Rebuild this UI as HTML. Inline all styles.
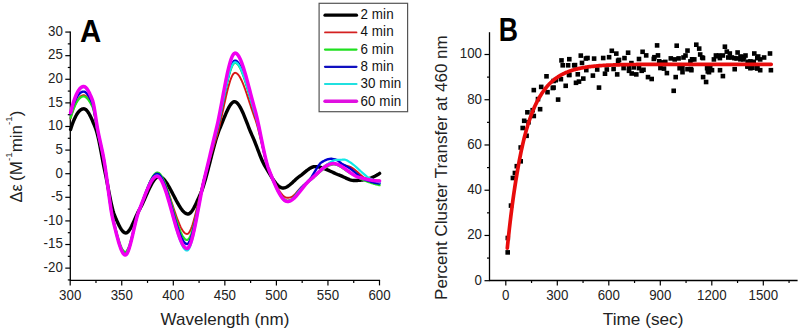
<!DOCTYPE html>
<html><head><meta charset="utf-8"><style>
html,body{margin:0;padding:0;background:#fff;overflow:hidden;}
svg{display:block;}
text{font-family:"Liberation Sans",sans-serif;fill:#222;}
.t{font-size:13.3px;}
.ti{font-size:17px;}
.lg{font-size:13.4px;fill:#111;letter-spacing:0.12px;}
.lab{font-size:30px;font-weight:bold;fill:#000;}
</style></head><body>
<svg width="800" height="331" viewBox="0 0 800 331">
<line x1="70.3" y1="31.569999999999993" x2="70.3" y2="280.4" stroke="#000" stroke-width="1.3"/>
<line x1="69.7" y1="280.4" x2="380.09999999999997" y2="280.4" stroke="#000" stroke-width="1.3"/>
<line x1="65.3" y1="268.12" x2="70.3" y2="268.12" stroke="#000" stroke-width="1.2"/>
<text transform="translate(62.80,271.92) scale(1,1.08)" text-anchor="end" class="t">-20</text>
<line x1="65.3" y1="244.515" x2="70.3" y2="244.515" stroke="#000" stroke-width="1.2"/>
<text transform="translate(62.80,248.31) scale(1,1.08)" text-anchor="end" class="t">-15</text>
<line x1="65.3" y1="220.91" x2="70.3" y2="220.91" stroke="#000" stroke-width="1.2"/>
<text transform="translate(62.80,224.71) scale(1,1.08)" text-anchor="end" class="t">-10</text>
<line x1="65.3" y1="197.30499999999998" x2="70.3" y2="197.30499999999998" stroke="#000" stroke-width="1.2"/>
<text transform="translate(62.80,201.10) scale(1,1.08)" text-anchor="end" class="t">-5</text>
<line x1="65.3" y1="173.7" x2="70.3" y2="173.7" stroke="#000" stroke-width="1.2"/>
<text transform="translate(62.80,177.50) scale(1,1.08)" text-anchor="end" class="t">0</text>
<line x1="65.3" y1="150.095" x2="70.3" y2="150.095" stroke="#000" stroke-width="1.2"/>
<text transform="translate(62.80,153.90) scale(1,1.08)" text-anchor="end" class="t">5</text>
<line x1="65.3" y1="126.48999999999998" x2="70.3" y2="126.48999999999998" stroke="#000" stroke-width="1.2"/>
<text transform="translate(62.80,130.29) scale(1,1.08)" text-anchor="end" class="t">10</text>
<line x1="65.3" y1="102.88499999999999" x2="70.3" y2="102.88499999999999" stroke="#000" stroke-width="1.2"/>
<text transform="translate(62.80,106.68) scale(1,1.08)" text-anchor="end" class="t">15</text>
<line x1="65.3" y1="79.27999999999999" x2="70.3" y2="79.27999999999999" stroke="#000" stroke-width="1.2"/>
<text transform="translate(62.80,83.08) scale(1,1.08)" text-anchor="end" class="t">20</text>
<line x1="65.3" y1="55.67499999999998" x2="70.3" y2="55.67499999999998" stroke="#000" stroke-width="1.2"/>
<text transform="translate(62.80,59.47) scale(1,1.08)" text-anchor="end" class="t">25</text>
<line x1="65.3" y1="32.06999999999999" x2="70.3" y2="32.06999999999999" stroke="#000" stroke-width="1.2"/>
<text transform="translate(62.80,35.87) scale(1,1.08)" text-anchor="end" class="t">30</text>
<line x1="67.8" y1="279.9225" x2="70.3" y2="279.9225" stroke="#000" stroke-width="1.2"/>
<line x1="67.8" y1="256.3175" x2="70.3" y2="256.3175" stroke="#000" stroke-width="1.2"/>
<line x1="67.8" y1="232.71249999999998" x2="70.3" y2="232.71249999999998" stroke="#000" stroke-width="1.2"/>
<line x1="67.8" y1="209.1075" x2="70.3" y2="209.1075" stroke="#000" stroke-width="1.2"/>
<line x1="67.8" y1="185.5025" x2="70.3" y2="185.5025" stroke="#000" stroke-width="1.2"/>
<line x1="67.8" y1="161.89749999999998" x2="70.3" y2="161.89749999999998" stroke="#000" stroke-width="1.2"/>
<line x1="67.8" y1="138.2925" x2="70.3" y2="138.2925" stroke="#000" stroke-width="1.2"/>
<line x1="67.8" y1="114.68749999999999" x2="70.3" y2="114.68749999999999" stroke="#000" stroke-width="1.2"/>
<line x1="67.8" y1="91.08249999999998" x2="70.3" y2="91.08249999999998" stroke="#000" stroke-width="1.2"/>
<line x1="67.8" y1="67.47749999999999" x2="70.3" y2="67.47749999999999" stroke="#000" stroke-width="1.2"/>
<line x1="67.8" y1="43.872499999999974" x2="70.3" y2="43.872499999999974" stroke="#000" stroke-width="1.2"/>
<line x1="70.2" y1="280.4" x2="70.2" y2="285.4" stroke="#000" stroke-width="1.2"/>
<text transform="translate(70.20,299.50) scale(1,1.08)" text-anchor="middle" class="t">300</text>
<line x1="121.75" y1="280.4" x2="121.75" y2="285.4" stroke="#000" stroke-width="1.2"/>
<text transform="translate(121.75,299.50) scale(1,1.08)" text-anchor="middle" class="t">350</text>
<line x1="173.3" y1="280.4" x2="173.3" y2="285.4" stroke="#000" stroke-width="1.2"/>
<text transform="translate(173.30,299.50) scale(1,1.08)" text-anchor="middle" class="t">400</text>
<line x1="224.84999999999997" y1="280.4" x2="224.84999999999997" y2="285.4" stroke="#000" stroke-width="1.2"/>
<text transform="translate(224.85,299.50) scale(1,1.08)" text-anchor="middle" class="t">450</text>
<line x1="276.4" y1="280.4" x2="276.4" y2="285.4" stroke="#000" stroke-width="1.2"/>
<text transform="translate(276.40,299.50) scale(1,1.08)" text-anchor="middle" class="t">500</text>
<line x1="327.95" y1="280.4" x2="327.95" y2="285.4" stroke="#000" stroke-width="1.2"/>
<text transform="translate(327.95,299.50) scale(1,1.08)" text-anchor="middle" class="t">550</text>
<line x1="379.49999999999994" y1="280.4" x2="379.49999999999994" y2="285.4" stroke="#000" stroke-width="1.2"/>
<text transform="translate(379.50,299.50) scale(1,1.08)" text-anchor="middle" class="t">600</text>
<line x1="95.975" y1="280.4" x2="95.975" y2="282.9" stroke="#000" stroke-width="1.2"/>
<line x1="147.52499999999998" y1="280.4" x2="147.52499999999998" y2="282.9" stroke="#000" stroke-width="1.2"/>
<line x1="199.075" y1="280.4" x2="199.075" y2="282.9" stroke="#000" stroke-width="1.2"/>
<line x1="250.625" y1="280.4" x2="250.625" y2="282.9" stroke="#000" stroke-width="1.2"/>
<line x1="302.175" y1="280.4" x2="302.175" y2="282.9" stroke="#000" stroke-width="1.2"/>
<line x1="353.72499999999997" y1="280.4" x2="353.72499999999997" y2="282.9" stroke="#000" stroke-width="1.2"/>
<text x="225" y="325.0" text-anchor="middle" class="ti">Wavelength (nm)</text>
<text transform="translate(21.6,0) rotate(-90)" x="-202.5" y="0" class="ti" style="font-size:16.4px">&#916;&#949;<tspan dx="-1.4" style="font-size:17px"> (M<tspan font-size="9.8" dy="-9.9">-1</tspan><tspan dy="9.9">min</tspan><tspan font-size="9.8" dy="-9.9">-1</tspan><tspan dy="9.9">)</tspan></tspan></text>
<text transform="translate(80,41.7) scale(0.92,1)" x="0" y="0" class="lab" style="font-size:32px">A</text>
<rect x="319.1" y="3.3" width="88.5" height="108.4" fill="#fff" stroke="#555" stroke-width="1.2"/>
<line x1="325" y1="15.2" x2="356.5" y2="15.2" stroke="#000000" stroke-width="3.2" stroke-linecap="round"/>
<text transform="translate(360.4,19.10) scale(1,1.09)" class="lg">2 min</text>
<line x1="325" y1="32.4" x2="356.5" y2="32.4" stroke="#d42020" stroke-width="1.8" stroke-linecap="round"/>
<text transform="translate(360.4,36.38) scale(1,1.09)" class="lg">4 min</text>
<line x1="325" y1="49.599999999999994" x2="356.5" y2="49.599999999999994" stroke="#20e020" stroke-width="2.2" stroke-linecap="round"/>
<text transform="translate(360.4,53.66) scale(1,1.09)" class="lg">6 min</text>
<line x1="325" y1="66.8" x2="356.5" y2="66.8" stroke="#1010c0" stroke-width="2.2" stroke-linecap="round"/>
<text transform="translate(360.4,70.94) scale(1,1.09)" class="lg">8 min</text>
<line x1="325" y1="84.0" x2="356.5" y2="84.0" stroke="#20e0e0" stroke-width="2.2" stroke-linecap="round"/>
<text transform="translate(360.4,88.22) scale(1,1.09)" class="lg">30 min</text>
<line x1="325" y1="101.2" x2="356.5" y2="101.2" stroke="#e010e0" stroke-width="3.4" stroke-linecap="round"/>
<text transform="translate(360.4,105.50) scale(1,1.09)" class="lg">60 min</text>
<line x1="489.5" y1="32.2" x2="489.5" y2="280.5" stroke="#000" stroke-width="1.3"/>
<line x1="488.9" y1="280.5" x2="797.6" y2="280.5" stroke="#000" stroke-width="1.3"/>
<line x1="484.5" y1="280.7" x2="489.5" y2="280.7" stroke="#000" stroke-width="1.2"/>
<text transform="translate(482.00,284.50) scale(1,1.08)" text-anchor="end" class="t">0</text>
<line x1="484.5" y1="235.45999999999998" x2="489.5" y2="235.45999999999998" stroke="#000" stroke-width="1.2"/>
<text transform="translate(482.00,239.26) scale(1,1.08)" text-anchor="end" class="t">20</text>
<line x1="484.5" y1="190.21999999999997" x2="489.5" y2="190.21999999999997" stroke="#000" stroke-width="1.2"/>
<text transform="translate(482.00,194.02) scale(1,1.08)" text-anchor="end" class="t">40</text>
<line x1="484.5" y1="144.98" x2="489.5" y2="144.98" stroke="#000" stroke-width="1.2"/>
<text transform="translate(482.00,148.78) scale(1,1.08)" text-anchor="end" class="t">60</text>
<line x1="484.5" y1="99.73999999999998" x2="489.5" y2="99.73999999999998" stroke="#000" stroke-width="1.2"/>
<text transform="translate(482.00,103.54) scale(1,1.08)" text-anchor="end" class="t">80</text>
<line x1="484.5" y1="54.5" x2="489.5" y2="54.5" stroke="#000" stroke-width="1.2"/>
<text transform="translate(482.00,58.30) scale(1,1.08)" text-anchor="end" class="t">100</text>
<line x1="487.0" y1="258.08" x2="489.5" y2="258.08" stroke="#000" stroke-width="1.2"/>
<line x1="487.0" y1="212.83999999999997" x2="489.5" y2="212.83999999999997" stroke="#000" stroke-width="1.2"/>
<line x1="487.0" y1="167.6" x2="489.5" y2="167.6" stroke="#000" stroke-width="1.2"/>
<line x1="487.0" y1="122.35999999999999" x2="489.5" y2="122.35999999999999" stroke="#000" stroke-width="1.2"/>
<line x1="487.0" y1="77.11999999999998" x2="489.5" y2="77.11999999999998" stroke="#000" stroke-width="1.2"/>
<line x1="505.8" y1="280.5" x2="505.8" y2="285.5" stroke="#000" stroke-width="1.2"/>
<text transform="translate(505.80,299.60) scale(1,1.08)" text-anchor="middle" class="t">0</text>
<line x1="557.301" y1="280.5" x2="557.301" y2="285.5" stroke="#000" stroke-width="1.2"/>
<text transform="translate(557.30,299.60) scale(1,1.08)" text-anchor="middle" class="t">300</text>
<line x1="608.802" y1="280.5" x2="608.802" y2="285.5" stroke="#000" stroke-width="1.2"/>
<text transform="translate(608.80,299.60) scale(1,1.08)" text-anchor="middle" class="t">600</text>
<line x1="660.303" y1="280.5" x2="660.303" y2="285.5" stroke="#000" stroke-width="1.2"/>
<text transform="translate(660.30,299.60) scale(1,1.08)" text-anchor="middle" class="t">900</text>
<line x1="711.804" y1="280.5" x2="711.804" y2="285.5" stroke="#000" stroke-width="1.2"/>
<text transform="translate(711.80,299.60) scale(1,1.08)" text-anchor="middle" class="t">1200</text>
<line x1="763.3050000000001" y1="280.5" x2="763.3050000000001" y2="285.5" stroke="#000" stroke-width="1.2"/>
<text transform="translate(763.31,299.60) scale(1,1.08)" text-anchor="middle" class="t">1500</text>
<line x1="531.5505" y1="280.5" x2="531.5505" y2="283.0" stroke="#000" stroke-width="1.2"/>
<line x1="583.0515" y1="280.5" x2="583.0515" y2="283.0" stroke="#000" stroke-width="1.2"/>
<line x1="634.5525" y1="280.5" x2="634.5525" y2="283.0" stroke="#000" stroke-width="1.2"/>
<line x1="686.0535" y1="280.5" x2="686.0535" y2="283.0" stroke="#000" stroke-width="1.2"/>
<line x1="737.5545" y1="280.5" x2="737.5545" y2="283.0" stroke="#000" stroke-width="1.2"/>
<line x1="789.0554999999999" y1="280.5" x2="789.0554999999999" y2="283.0" stroke="#000" stroke-width="1.2"/>
<text x="643.1" y="325.2" text-anchor="middle" class="ti" style="font-size:17.2px">Time (sec)</text>
<text transform="translate(447.2,167.6) rotate(-90)" text-anchor="middle" class="ti">Percent Cluster Transfer at 460 nm</text>
<text transform="translate(498.7,40.6) scale(0.82,1)" x="0" y="0" class="lab" style="font-size:32.5px">B</text>
<path d="M70.6,129.50 L71.2,127.59 L71.8,125.77 L72.4,124.06 L73.0,122.44 L73.6,120.92 L74.2,119.49 L74.8,118.16 L75.4,116.92 L76.0,115.77 L76.6,114.72 L77.2,113.75 L77.8,112.88 L78.4,112.09 L79.0,111.39 L79.6,110.77 L80.2,110.24 L80.8,109.80 L81.4,109.44 L82.0,109.16 L82.6,108.96 L83.2,108.84 L83.8,108.80 L84.4,108.87 L85.0,109.09 L85.6,109.45 L86.2,109.93 L86.8,110.53 L87.4,111.25 L88.0,112.07 L88.6,112.99 L89.2,114.00 L89.8,115.10 L90.4,116.27 L91.0,117.51 L91.6,118.81 L92.2,120.17 L92.8,121.57 L93.4,123.01 L94.0,124.48 L94.6,125.97 L95.2,127.48 L95.8,129.00 L96.4,130.69 L97.0,132.70 L97.6,134.99 L98.2,137.52 L98.8,140.26 L99.4,143.17 L100.0,146.21 L100.6,149.34 L101.2,152.54 L101.8,155.76 L102.4,158.97 L103.0,162.12 L103.6,165.19 L104.2,168.13 L104.8,170.92 L105.4,173.79 L106.0,176.76 L106.6,179.81 L107.2,182.92 L107.8,186.06 L108.4,189.20 L109.0,192.32 L109.6,195.39 L110.2,198.38 L110.8,201.27 L111.4,204.04 L112.0,206.65 L112.6,209.07 L113.2,211.30 L113.8,213.28 L114.4,215.01 L115.0,216.46 L115.6,217.85 L116.2,219.23 L116.8,220.58 L117.4,221.91 L118.0,223.21 L118.6,224.46 L119.2,225.65 L119.8,226.79 L120.4,227.86 L121.0,228.85 L121.6,229.75 L122.2,230.57 L122.8,231.27 L123.4,231.87 L124.0,232.35 L124.6,232.71 L125.2,232.93 L125.8,233.00 L126.4,232.91 L127.0,232.65 L127.6,232.22 L128.2,231.65 L128.8,230.95 L129.4,230.12 L130.0,229.18 L130.6,228.14 L131.2,227.02 L131.8,225.83 L132.4,224.57 L133.0,223.27 L133.6,221.93 L134.2,220.57 L134.8,219.19 L135.4,217.82 L136.0,216.47 L136.6,215.14 L137.2,213.85 L137.8,212.61 L138.4,211.44 L139.0,210.35 L139.6,209.30 L140.2,208.22 L140.8,207.07 L141.4,205.89 L142.0,204.66 L142.6,203.40 L143.2,202.11 L143.8,200.79 L144.4,199.46 L145.0,198.12 L145.6,196.77 L146.2,195.41 L146.8,194.06 L147.4,192.72 L148.0,191.40 L148.6,190.10 L149.2,188.82 L149.8,187.57 L150.4,186.37 L151.0,185.20 L151.6,184.09 L152.2,183.03 L152.8,182.02 L153.4,181.09 L154.0,180.22 L154.6,179.43 L155.2,178.72 L155.8,178.10 L156.4,177.58 L157.0,177.15 L157.6,176.82 L158.2,176.61 L158.8,176.51 L159.4,176.52 L160.0,176.63 L160.6,176.83 L161.2,177.11 L161.8,177.48 L162.4,177.93 L163.0,178.44 L163.6,179.03 L164.2,179.68 L164.8,180.40 L165.4,181.17 L166.0,182.00 L166.6,182.88 L167.2,183.80 L167.8,184.76 L168.4,185.77 L169.0,186.80 L169.6,187.87 L170.2,188.96 L170.8,190.07 L171.4,191.21 L172.0,192.35 L172.6,193.51 L173.2,194.67 L173.8,195.83 L174.4,196.99 L175.0,198.15 L175.6,199.29 L176.2,200.43 L176.8,201.54 L177.4,202.63 L178.0,203.70 L178.6,204.73 L179.2,205.74 L179.8,206.70 L180.4,207.62 L181.0,208.50 L181.6,209.33 L182.2,210.10 L182.8,210.82 L183.4,211.47 L184.0,212.06 L184.6,212.57 L185.2,213.02 L185.8,213.39 L186.4,213.67 L187.0,213.87 L187.6,213.98 L188.2,213.99 L188.8,213.86 L189.4,213.59 L190.0,213.17 L190.6,212.63 L191.2,211.98 L191.8,211.21 L192.4,210.35 L193.0,209.39 L193.6,208.36 L194.2,207.26 L194.8,206.10 L195.4,204.89 L196.0,203.64 L196.6,202.36 L197.2,201.06 L197.8,199.75 L198.4,198.44 L199.0,197.13 L199.6,195.84 L200.2,194.57 L200.8,193.22 L201.4,191.74 L202.0,190.15 L202.6,188.45 L203.2,186.66 L203.8,184.78 L204.4,182.81 L205.0,180.78 L205.6,178.67 L206.2,176.51 L206.8,174.30 L207.4,172.04 L208.0,169.75 L208.6,167.43 L209.2,165.09 L209.8,162.73 L210.4,160.37 L211.0,158.02 L211.6,155.67 L212.2,153.33 L212.8,151.03 L213.4,148.75 L214.0,146.52 L214.6,144.33 L215.2,142.20 L215.8,140.13 L216.4,138.13 L217.0,136.21 L217.6,134.38 L218.2,132.63 L218.8,130.99 L219.4,129.46 L220.0,128.03 L220.6,126.60 L221.2,125.15 L221.8,123.67 L222.4,122.18 L223.0,120.68 L223.6,119.19 L224.2,117.70 L224.8,116.24 L225.4,114.80 L226.0,113.39 L226.6,112.03 L227.2,110.71 L227.8,109.46 L228.4,108.27 L229.0,107.15 L229.6,106.11 L230.2,105.17 L230.8,104.32 L231.4,103.57 L232.0,102.94 L232.6,102.43 L233.2,102.05 L233.8,101.80 L234.4,101.70 L235.0,101.75 L235.6,101.94 L236.2,102.25 L236.8,102.70 L237.4,103.26 L238.0,103.94 L238.6,104.71 L239.2,105.59 L239.8,106.56 L240.4,107.62 L241.0,108.75 L241.6,109.95 L242.2,111.22 L242.8,112.55 L243.4,113.93 L244.0,115.35 L244.6,116.81 L245.2,118.30 L245.8,119.82 L246.4,121.35 L247.0,122.90 L247.6,124.44 L248.2,125.99 L248.8,127.53 L249.4,129.05 L250.0,130.54 L250.6,132.01 L251.2,133.44 L251.8,134.83 L252.4,136.17 L253.0,137.48 L253.6,138.85 L254.2,140.28 L254.8,141.76 L255.4,143.28 L256.0,144.83 L256.6,146.40 L257.2,148.00 L257.8,149.59 L258.4,151.19 L259.0,152.77 L259.6,154.34 L260.2,155.87 L260.8,157.37 L261.4,158.82 L262.0,160.22 L262.6,161.55 L263.2,162.82 L263.8,164.00 L264.4,165.09 L265.0,166.10 L265.6,167.11 L266.2,168.12 L266.8,169.14 L267.4,170.17 L268.0,171.20 L268.6,172.22 L269.2,173.24 L269.8,174.25 L270.4,175.24 L271.0,176.23 L271.6,177.19 L272.2,178.13 L272.8,179.05 L273.4,179.94 L274.0,180.80 L274.6,181.63 L275.2,182.42 L275.8,183.17 L276.4,183.88 L277.0,184.55 L277.6,185.16 L278.2,185.72 L278.8,186.23 L279.4,186.68 L280.0,187.07 L280.6,187.40 L281.2,187.66 L281.8,187.85 L282.4,187.96 L283.0,188.00 L283.6,187.97 L284.2,187.88 L284.8,187.74 L285.4,187.54 L286.0,187.30 L286.6,187.01 L287.2,186.68 L287.8,186.32 L288.4,185.91 L289.0,185.48 L289.6,185.02 L290.2,184.53 L290.8,184.02 L291.4,183.50 L292.0,182.96 L292.6,182.41 L293.2,181.85 L293.8,181.28 L294.4,180.72 L295.0,180.16 L295.6,179.60 L296.2,179.05 L296.8,178.51 L297.4,177.99 L298.0,177.49 L298.6,177.01 L299.2,176.56 L299.8,176.13 L300.4,175.73 L301.0,175.30 L301.6,174.86 L302.2,174.39 L302.8,173.91 L303.4,173.42 L304.0,172.92 L304.6,172.42 L305.2,171.92 L305.8,171.42 L306.4,170.93 L307.0,170.45 L307.6,169.98 L308.2,169.53 L308.8,169.09 L309.4,168.68 L310.0,168.30 L310.6,167.95 L311.2,167.63 L311.8,167.34 L312.4,167.10 L313.0,166.90 L313.6,166.75 L314.2,166.65 L314.8,166.60 L315.4,166.60 L316.0,166.63 L316.6,166.67 L317.2,166.73 L317.8,166.81 L318.4,166.90 L319.0,167.01 L319.6,167.14 L320.2,167.28 L320.8,167.43 L321.4,167.60 L322.0,167.78 L322.6,167.97 L323.2,168.17 L323.8,168.38 L324.4,168.61 L325.0,168.84 L325.6,169.08 L326.2,169.32 L326.8,169.58 L327.4,169.84 L328.0,170.10 L328.6,170.37 L329.2,170.64 L329.8,170.92 L330.4,171.20 L331.0,171.48 L331.6,171.76 L332.2,172.04 L332.8,172.32 L333.4,172.60 L334.0,172.88 L334.6,173.16 L335.2,173.43 L335.8,173.70 L336.4,173.96 L337.0,174.22 L337.6,174.47 L338.2,174.71 L338.8,174.95 L339.4,175.18 L340.0,175.40 L340.6,175.62 L341.2,175.87 L341.8,176.12 L342.4,176.39 L343.0,176.67 L343.6,176.95 L344.2,177.24 L344.8,177.53 L345.4,177.82 L346.0,178.11 L346.6,178.39 L347.2,178.67 L347.8,178.93 L348.4,179.19 L349.0,179.42 L349.6,179.65 L350.2,179.85 L350.8,180.02 L351.4,180.18 L352.0,180.31 L352.6,180.40 L353.2,180.47 L353.8,180.50 L354.4,180.50 L355.0,180.49 L355.6,180.49 L356.2,180.47 L356.8,180.45 L357.4,180.43 L358.0,180.40 L358.6,180.36 L359.2,180.32 L359.8,180.28 L360.4,180.22 L361.0,180.16 L361.6,180.09 L362.2,180.02 L362.8,179.93 L363.4,179.84 L364.0,179.74 L364.6,179.64 L365.2,179.52 L365.8,179.39 L366.4,179.26 L367.0,179.12 L367.6,178.96 L368.2,178.80 L368.8,178.62 L369.4,178.44 L370.0,178.24 L370.6,178.03 L371.2,177.82 L371.8,177.59 L372.4,177.34 L373.0,177.09 L373.6,176.82 L374.2,176.54 L374.8,176.25 L375.4,175.94 L376.0,175.62 L376.6,175.29 L377.2,174.94 L377.8,174.58 L378.4,174.20 L379.0,173.81 L379.6,173.40" fill="none" stroke="#000000" stroke-width="3.4" stroke-linejoin="round" stroke-linecap="round"/>
<path d="M70.6,118.50 L71.2,116.35 L71.8,114.32 L72.4,112.39 L73.0,110.57 L73.6,108.85 L74.2,107.24 L74.8,105.74 L75.4,104.34 L76.0,103.04 L76.6,101.85 L77.2,100.75 L77.8,99.76 L78.4,98.87 L79.0,98.07 L79.6,97.38 L80.2,96.78 L80.8,96.28 L81.4,95.88 L82.0,95.57 L82.6,95.35 L83.2,95.23 L83.8,95.20 L84.4,95.30 L85.0,95.52 L85.6,95.87 L86.2,96.32 L86.8,96.89 L87.4,97.55 L88.0,98.30 L88.6,99.13 L89.2,100.04 L89.8,101.01 L90.4,102.05 L91.0,103.13 L91.6,104.26 L92.2,105.43 L92.8,106.80 L93.4,108.88 L94.0,111.55 L94.6,114.67 L95.2,118.10 L95.8,121.68 L96.4,125.26 L97.0,128.70 L97.6,131.84 L98.2,134.63 L98.8,137.27 L99.4,139.82 L100.0,142.33 L100.6,144.82 L101.2,147.33 L101.8,149.91 L102.4,152.59 L103.0,155.40 L103.6,158.39 L104.2,161.60 L104.8,165.14 L105.4,168.99 L106.0,173.08 L106.6,177.37 L107.2,181.78 L107.8,186.27 L108.4,190.76 L109.0,195.21 L109.6,199.55 L110.2,203.73 L110.8,207.68 L111.4,211.35 L112.0,214.67 L112.6,217.59 L113.2,220.07 L113.8,222.46 L114.4,224.86 L115.0,227.25 L115.6,229.62 L116.2,231.96 L116.8,234.25 L117.4,236.47 L118.0,238.62 L118.6,240.68 L119.2,242.64 L119.8,244.48 L120.4,246.19 L121.0,247.75 L121.6,249.16 L122.2,250.39 L122.8,251.44 L123.4,252.29 L124.0,252.92 L124.6,253.33 L125.2,253.50 L125.8,253.37 L126.4,252.91 L127.0,252.14 L127.6,251.07 L128.2,249.75 L128.8,248.19 L129.4,246.42 L130.0,244.46 L130.6,242.35 L131.2,240.10 L131.8,237.75 L132.4,235.31 L133.0,232.82 L133.6,230.30 L134.2,227.78 L134.8,225.27 L135.4,222.81 L136.0,220.43 L136.6,218.14 L137.2,215.98 L137.8,213.97 L138.4,212.13 L139.0,210.50 L139.6,209.02 L140.2,207.53 L140.8,206.00 L141.4,204.45 L142.0,202.88 L142.6,201.29 L143.2,199.69 L143.8,198.09 L144.4,196.49 L145.0,194.90 L145.6,193.32 L146.2,191.77 L146.8,190.24 L147.4,188.74 L148.0,187.28 L148.6,185.87 L149.2,184.50 L149.8,183.20 L150.4,181.95 L151.0,180.77 L151.6,179.67 L152.2,178.64 L152.8,177.70 L153.4,176.85 L154.0,176.10 L154.6,175.45 L155.2,174.91 L155.8,174.48 L156.4,174.18 L157.0,174.00 L157.6,173.96 L158.2,174.07 L158.8,174.32 L159.4,174.71 L160.0,175.22 L160.6,175.86 L161.2,176.62 L161.8,177.48 L162.4,178.45 L163.0,179.52 L163.6,180.68 L164.2,181.93 L164.8,183.26 L165.4,184.66 L166.0,186.13 L166.6,187.67 L167.2,189.26 L167.8,190.90 L168.4,192.58 L169.0,194.31 L169.6,196.07 L170.2,197.85 L170.8,199.65 L171.4,201.47 L172.0,203.30 L172.6,205.12 L173.2,206.95 L173.8,208.76 L174.4,210.56 L175.0,212.34 L175.6,214.09 L176.2,215.80 L176.8,217.48 L177.4,219.11 L178.0,220.68 L178.6,222.20 L179.2,223.66 L179.8,225.04 L180.4,226.35 L181.0,227.58 L181.6,228.72 L182.2,229.76 L182.8,230.71 L183.4,231.54 L184.0,232.27 L184.6,232.88 L185.2,233.36 L185.8,233.71 L186.4,233.93 L187.0,234.00 L187.6,233.87 L188.2,233.49 L188.8,232.87 L189.4,232.03 L190.0,230.99 L190.6,229.74 L191.2,228.31 L191.8,226.71 L192.4,224.96 L193.0,223.06 L193.6,221.03 L194.2,218.88 L194.8,216.64 L195.4,214.30 L196.0,211.89 L196.6,209.41 L197.2,206.88 L197.8,204.32 L198.4,201.74 L199.0,199.15 L199.6,196.56 L200.2,193.98 L200.8,191.44 L201.4,188.95 L202.0,186.51 L202.6,184.14 L203.2,181.86 L203.8,179.67 L204.4,177.60 L205.0,175.61 L205.6,173.58 L206.2,171.54 L206.8,169.50 L207.4,167.47 L208.0,165.43 L208.6,163.41 L209.2,161.39 L209.8,159.37 L210.4,157.36 L211.0,155.35 L211.6,153.35 L212.2,151.36 L212.8,149.38 L213.4,147.40 L214.0,145.43 L214.6,143.46 L215.2,141.51 L215.8,139.56 L216.4,137.63 L217.0,135.62 L217.6,133.48 L218.2,131.21 L218.8,128.83 L219.4,126.35 L220.0,123.79 L220.6,121.15 L221.2,118.47 L221.8,115.74 L222.4,112.98 L223.0,110.20 L223.6,107.43 L224.2,104.67 L224.8,101.93 L225.4,99.24 L226.0,96.59 L226.6,94.02 L227.2,91.53 L227.8,89.13 L228.4,86.84 L229.0,84.68 L229.6,82.65 L230.2,80.77 L230.8,79.06 L231.4,77.52 L232.0,76.17 L232.6,75.03 L233.2,74.11 L233.8,73.43 L234.4,72.98 L235.0,72.80 L235.6,72.85 L236.2,73.05 L236.8,73.39 L237.4,73.87 L238.0,74.48 L238.6,75.21 L239.2,76.05 L239.8,77.01 L240.4,78.07 L241.0,79.23 L241.6,80.48 L242.2,81.81 L242.8,83.22 L243.4,84.71 L244.0,86.26 L244.6,87.87 L245.2,89.53 L245.8,91.24 L246.4,92.99 L247.0,94.77 L247.6,96.58 L248.2,98.41 L248.8,100.26 L249.4,102.11 L250.0,103.97 L250.6,105.82 L251.2,107.67 L251.8,109.49 L252.4,111.29 L253.0,113.07 L253.6,114.80 L254.2,116.49 L254.8,118.14 L255.4,119.78 L256.0,121.57 L256.6,123.52 L257.2,125.60 L257.8,127.80 L258.4,130.10 L259.0,132.49 L259.6,134.95 L260.2,137.46 L260.8,140.01 L261.4,142.57 L262.0,145.15 L262.6,147.71 L263.2,150.24 L263.8,152.73 L264.4,155.15 L265.0,157.50 L265.6,159.76 L266.2,161.91 L266.8,163.93 L267.4,165.81 L268.0,167.53 L268.6,169.07 L269.2,170.44 L269.8,171.76 L270.4,173.09 L271.0,174.41 L271.6,175.72 L272.2,177.03 L272.8,178.32 L273.4,179.60 L274.0,180.86 L274.6,182.10 L275.2,183.31 L275.8,184.50 L276.4,185.65 L277.0,186.78 L277.6,187.86 L278.2,188.91 L278.8,189.91 L279.4,190.87 L280.0,191.78 L280.6,192.64 L281.2,193.44 L281.8,194.19 L282.4,194.87 L283.0,195.49 L283.6,196.04 L284.2,196.53 L284.8,196.94 L285.4,197.27 L286.0,197.53 L286.6,197.70 L287.2,197.79 L287.8,197.79 L288.4,197.75 L289.0,197.67 L289.6,197.55 L290.2,197.39 L290.8,197.18 L291.4,196.91 L292.0,196.58 L292.6,196.18 L293.2,195.73 L293.8,195.22 L294.4,194.67 L295.0,194.07 L295.6,193.44 L296.2,192.78 L296.8,192.11 L297.4,191.42 L298.0,190.74 L298.6,190.05 L299.2,189.38 L299.8,188.73 L300.4,188.10 L301.0,187.49 L301.6,186.90 L302.2,186.34 L302.8,185.81 L303.4,185.30 L304.0,184.81 L304.6,184.32 L305.2,183.84 L305.8,183.36 L306.4,182.88 L307.0,182.40 L307.6,181.91 L308.2,181.43 L308.8,180.96 L309.4,180.48 L310.0,180.00 L310.6,179.51 L311.2,179.00 L311.8,178.46 L312.4,177.91 L313.0,177.34 L313.6,176.75 L314.2,176.15 L314.8,175.54 L315.4,174.92 L316.0,174.30 L316.6,173.67 L317.2,173.04 L317.8,172.42 L318.4,171.79 L319.0,171.17 L319.6,170.56 L320.2,169.96 L320.8,169.37 L321.4,168.80 L322.0,168.24 L322.6,167.71 L323.2,167.19 L323.8,166.70 L324.4,166.24 L325.0,165.80 L325.6,165.39 L326.2,165.02 L326.8,164.68 L327.4,164.38 L328.0,164.12 L328.6,163.90 L329.2,163.73 L329.8,163.60 L330.4,163.53 L331.0,163.50 L331.6,163.51 L332.2,163.53 L332.8,163.56 L333.4,163.61 L334.0,163.66 L334.6,163.73 L335.2,163.80 L335.8,163.87 L336.4,163.96 L337.0,164.04 L337.6,164.14 L338.2,164.23 L338.8,164.32 L339.4,164.41 L340.0,164.50 L340.6,164.59 L341.2,164.68 L341.8,164.78 L342.4,164.89 L343.0,165.00 L343.6,165.11 L344.2,165.23 L344.8,165.36 L345.4,165.49 L346.0,165.63 L346.6,165.78 L347.2,165.93 L347.8,166.09 L348.4,166.26 L349.0,166.44 L349.6,166.63 L350.2,166.87 L350.8,167.14 L351.4,167.46 L352.0,167.80 L352.6,168.18 L353.2,168.59 L353.8,169.02 L354.4,169.48 L355.0,169.95 L355.6,170.44 L356.2,170.95 L356.8,171.47 L357.4,172.00 L358.0,172.53 L358.6,173.06 L359.2,173.59 L359.8,174.13 L360.4,174.65 L361.0,175.16 L361.6,175.67 L362.2,176.16 L362.8,176.63 L363.4,177.08 L364.0,177.50 L364.6,177.91 L365.2,178.28 L365.8,178.62 L366.4,178.92 L367.0,179.18 L367.6,179.41 L368.2,179.59 L368.8,179.73 L369.4,179.81 L370.0,179.88 L370.6,179.94 L371.2,180.01 L371.8,180.07 L372.4,180.12 L373.0,180.18 L373.6,180.23 L374.2,180.28 L374.8,180.32 L375.4,180.36 L376.0,180.40 L376.6,180.43 L377.2,180.45 L377.8,180.47 L378.4,180.49 L379.0,180.50 L379.6,180.50" fill="none" stroke="#d81818" stroke-width="1.9" stroke-linejoin="round" stroke-linecap="round"/>
<path d="M70.6,118.00 L71.2,115.98 L71.8,114.06 L72.4,112.25 L73.0,110.55 L73.6,108.95 L74.2,107.45 L74.8,106.05 L75.4,104.75 L76.0,103.55 L76.6,102.45 L77.2,101.44 L77.8,100.53 L78.4,99.72 L79.0,98.99 L79.6,98.36 L80.2,97.82 L80.8,97.37 L81.4,97.00 L82.0,96.73 L82.6,96.53 L83.2,96.43 L83.8,96.40 L84.4,96.50 L85.0,96.71 L85.6,97.05 L86.2,97.49 L86.8,98.03 L87.4,98.67 L88.0,99.39 L88.6,100.20 L89.2,101.07 L89.8,102.01 L90.4,103.01 L91.0,104.05 L91.6,105.14 L92.2,106.26 L92.8,107.59 L93.4,109.61 L94.0,112.24 L94.6,115.31 L95.2,118.68 L95.8,122.20 L96.4,125.73 L97.0,129.11 L97.6,132.20 L98.2,134.93 L98.8,137.52 L99.4,140.02 L100.0,142.47 L100.6,144.91 L101.2,147.37 L101.8,149.89 L102.4,152.52 L103.0,155.28 L103.6,158.22 L104.2,161.39 L104.8,164.88 L105.4,168.68 L106.0,172.73 L106.6,176.96 L107.2,181.33 L107.8,185.77 L108.4,190.21 L109.0,194.62 L109.6,198.91 L110.2,203.04 L110.8,206.94 L111.4,210.56 L112.0,213.84 L112.6,216.71 L113.2,219.15 L113.8,221.50 L114.4,223.86 L115.0,226.21 L115.6,228.54 L116.2,230.83 L116.8,233.08 L117.4,235.27 L118.0,237.39 L118.6,239.42 L119.2,241.34 L119.8,243.15 L120.4,244.83 L121.0,246.37 L121.6,247.76 L122.2,248.97 L122.8,250.00 L123.4,250.83 L124.0,251.45 L124.6,251.85 L125.2,252.00 L125.8,251.87 L126.4,251.40 L127.0,250.64 L127.6,249.60 L128.2,248.32 L128.8,246.82 L129.4,245.12 L130.0,243.24 L130.6,241.22 L131.2,239.07 L131.8,236.82 L132.4,234.49 L133.0,232.10 L133.6,229.69 L134.2,227.26 L134.8,224.86 L135.4,222.49 L136.0,220.19 L136.6,217.98 L137.2,215.88 L137.8,213.92 L138.4,212.11 L139.0,210.49 L139.6,209.02 L140.2,207.52 L140.8,205.97 L141.4,204.39 L142.0,202.78 L142.6,201.15 L143.2,199.50 L143.8,197.85 L144.4,196.19 L145.0,194.54 L145.6,192.90 L146.2,191.28 L146.8,189.68 L147.4,188.11 L148.0,186.58 L148.6,185.10 L149.2,183.66 L149.8,182.29 L150.4,180.97 L151.0,179.73 L151.6,178.56 L152.2,177.48 L152.8,176.48 L153.4,175.59 L154.0,174.79 L154.6,174.11 L155.2,173.54 L155.8,173.10 L156.4,172.78 L157.0,172.60 L157.6,172.57 L158.2,172.71 L158.8,173.01 L159.4,173.45 L160.0,174.04 L160.6,174.77 L161.2,175.63 L161.8,176.60 L162.4,177.70 L163.0,178.91 L163.6,180.22 L164.2,181.62 L164.8,183.12 L165.4,184.70 L166.0,186.35 L166.6,188.08 L167.2,189.86 L167.8,191.71 L168.4,193.60 L169.0,195.53 L169.6,197.51 L170.2,199.51 L170.8,201.53 L171.4,203.57 L172.0,205.61 L172.6,207.66 L173.2,209.71 L173.8,211.74 L174.4,213.76 L175.0,215.75 L175.6,217.71 L176.2,219.63 L176.8,221.51 L177.4,223.33 L178.0,225.10 L178.6,226.80 L179.2,228.43 L179.8,229.98 L180.4,231.44 L181.0,232.81 L181.6,234.09 L182.2,235.26 L182.8,236.31 L183.4,237.25 L184.0,238.06 L184.6,238.74 L185.2,239.28 L185.8,239.68 L186.4,239.92 L187.0,240.00 L187.6,239.86 L188.2,239.44 L188.8,238.77 L189.4,237.85 L190.0,236.70 L190.6,235.34 L191.2,233.78 L191.8,232.03 L192.4,230.11 L193.0,228.03 L193.6,225.81 L194.2,223.46 L194.8,220.99 L195.4,218.43 L196.0,215.79 L196.6,213.07 L197.2,210.30 L197.8,207.49 L198.4,204.65 L199.0,201.80 L199.6,198.95 L200.2,196.12 L200.8,193.32 L201.4,190.57 L202.0,187.88 L202.6,185.27 L203.2,182.74 L203.8,180.32 L204.4,178.02 L205.0,175.81 L205.6,173.58 L206.2,171.34 L206.8,169.08 L207.4,166.82 L208.0,164.57 L208.6,162.30 L209.2,160.04 L209.8,157.78 L210.4,155.52 L211.0,153.26 L211.6,151.00 L212.2,148.75 L212.8,146.50 L213.4,144.25 L214.0,142.01 L214.6,139.78 L215.2,137.55 L215.8,135.34 L216.4,133.13 L217.0,130.85 L217.6,128.44 L218.2,125.90 L218.8,123.26 L219.4,120.52 L220.0,117.70 L220.6,114.81 L221.2,111.87 L221.8,108.89 L222.4,105.89 L223.0,102.89 L223.6,99.88 L224.2,96.90 L224.8,93.95 L225.4,91.05 L226.0,88.21 L226.6,85.45 L227.2,82.77 L227.8,80.21 L228.4,77.76 L229.0,75.45 L229.6,73.28 L230.2,71.28 L230.8,69.45 L231.4,67.81 L232.0,66.38 L232.6,65.17 L233.2,64.19 L233.8,63.46 L234.4,63.00 L235.0,62.80 L235.6,62.86 L236.2,63.08 L236.8,63.45 L237.4,63.97 L238.0,64.64 L238.6,65.44 L239.2,66.37 L239.8,67.42 L240.4,68.59 L241.0,69.86 L241.6,71.24 L242.2,72.71 L242.8,74.27 L243.4,75.91 L244.0,77.62 L244.6,79.40 L245.2,81.24 L245.8,83.14 L246.4,85.08 L247.0,87.06 L247.6,89.08 L248.2,91.12 L248.8,93.18 L249.4,95.26 L250.0,97.34 L250.6,99.42 L251.2,101.49 L251.8,103.55 L252.4,105.59 L253.0,107.60 L253.6,109.57 L254.2,111.51 L254.8,113.39 L255.4,115.27 L256.0,117.31 L256.6,119.49 L257.2,121.81 L257.8,124.25 L258.4,126.79 L259.0,129.41 L259.6,132.09 L260.2,134.83 L260.8,137.60 L261.4,140.38 L262.0,143.17 L262.6,145.94 L263.2,148.67 L263.8,151.35 L264.4,153.97 L265.0,156.50 L265.6,158.93 L266.2,161.25 L266.8,163.43 L267.4,165.46 L268.0,167.32 L268.6,168.99 L269.2,170.48 L269.8,171.92 L270.4,173.37 L271.0,174.81 L271.6,176.25 L272.2,177.68 L272.8,179.09 L273.4,180.49 L274.0,181.87 L274.6,183.23 L275.2,184.56 L275.8,185.86 L276.4,187.13 L277.0,188.37 L277.6,189.56 L278.2,190.71 L278.8,191.81 L279.4,192.87 L280.0,193.87 L280.6,194.81 L281.2,195.70 L281.8,196.52 L282.4,197.27 L283.0,197.95 L283.6,198.56 L284.2,199.10 L284.8,199.55 L285.4,199.92 L286.0,200.20 L286.6,200.39 L287.2,200.49 L287.8,200.49 L288.4,200.43 L289.0,200.32 L289.6,200.15 L290.2,199.92 L290.8,199.63 L291.4,199.27 L292.0,198.82 L292.6,198.31 L293.2,197.73 L293.8,197.09 L294.4,196.41 L295.0,195.69 L295.6,194.93 L296.2,194.16 L296.8,193.39 L297.4,192.61 L298.0,191.84 L298.6,191.09 L299.2,190.36 L299.8,189.66 L300.4,188.98 L301.0,188.33 L301.6,187.71 L302.2,187.12 L302.8,186.55 L303.4,186.00 L304.0,185.47 L304.6,184.94 L305.2,184.42 L305.8,183.91 L306.4,183.40 L307.0,182.90 L307.6,182.40 L308.2,181.91 L308.8,181.43 L309.4,180.96 L310.0,180.50 L310.6,180.04 L311.2,179.56 L311.8,179.07 L312.4,178.57 L313.0,178.07 L313.6,177.55 L314.2,177.03 L314.8,176.50 L315.4,175.97 L316.0,175.44 L316.6,174.90 L317.2,174.36 L317.8,173.83 L318.4,173.30 L319.0,172.77 L319.6,172.24 L320.2,171.72 L320.8,171.21 L321.4,170.71 L322.0,170.22 L322.6,169.74 L323.2,169.27 L323.8,168.82 L324.4,168.38 L325.0,167.96 L325.6,167.56 L326.2,167.17 L326.8,166.81 L327.4,166.46 L328.0,166.15 L328.6,165.85 L329.2,165.58 L329.8,165.34 L330.4,165.12 L331.0,164.94 L331.6,164.78 L332.2,164.66 L332.8,164.57 L333.4,164.52 L334.0,164.50 L334.6,164.52 L335.2,164.59 L335.8,164.70 L336.4,164.86 L337.0,165.04 L337.6,165.27 L338.2,165.52 L338.8,165.81 L339.4,166.12 L340.0,166.45 L340.6,166.81 L341.2,167.18 L341.8,167.57 L342.4,167.97 L343.0,168.38 L343.6,168.80 L344.2,169.22 L344.8,169.65 L345.4,170.07 L346.0,170.49 L346.6,170.91 L347.2,171.31 L347.8,171.70 L348.4,172.08 L349.0,172.44 L349.6,172.79 L350.2,173.11 L350.8,173.42 L351.4,173.75 L352.0,174.08 L352.6,174.41 L353.2,174.74 L353.8,175.07 L354.4,175.41 L355.0,175.75 L355.6,176.08 L356.2,176.41 L356.8,176.75 L357.4,177.08 L358.0,177.40 L358.6,177.72 L359.2,178.04 L359.8,178.35 L360.4,178.65 L361.0,178.95 L361.6,179.24 L362.2,179.52 L362.8,179.79 L363.4,180.05 L364.0,180.30 L364.6,180.54 L365.2,180.77 L365.8,181.00 L366.4,181.23 L367.0,181.45 L367.6,181.67 L368.2,181.89 L368.8,182.10 L369.4,182.31 L370.0,182.52 L370.6,182.72 L371.2,182.92 L371.8,183.12 L372.4,183.31 L373.0,183.49 L373.6,183.67 L374.2,183.85 L374.8,184.02 L375.4,184.19 L376.0,184.35 L376.6,184.51 L377.2,184.66 L377.8,184.80 L378.4,184.94 L379.0,185.07 L379.6,185.20" fill="none" stroke="#20e020" stroke-width="2.2" stroke-linejoin="round" stroke-linecap="round"/>
<path d="M70.6,113.50 L71.2,111.41 L71.8,109.43 L72.4,107.57 L73.0,105.82 L73.6,104.19 L74.2,102.66 L74.8,101.24 L75.4,99.92 L76.0,98.71 L76.6,97.60 L77.2,96.59 L77.8,95.68 L78.4,94.87 L79.0,94.15 L79.6,93.52 L80.2,92.99 L80.8,92.54 L81.4,92.18 L82.0,91.91 L82.6,91.73 L83.2,91.62 L83.8,91.60 L84.4,91.71 L85.0,91.95 L85.6,92.33 L86.2,92.83 L86.8,93.45 L87.4,94.17 L88.0,95.00 L88.6,95.92 L89.2,96.92 L89.8,97.99 L90.4,99.13 L91.0,100.33 L91.6,101.58 L92.2,102.88 L92.8,104.37 L93.4,106.58 L94.0,109.38 L94.6,112.64 L95.2,116.20 L95.8,119.91 L96.4,123.63 L97.0,127.20 L97.6,130.47 L98.2,133.39 L98.8,136.16 L99.4,138.83 L100.0,141.45 L100.6,144.05 L101.2,146.66 L101.8,149.34 L102.4,152.10 L103.0,154.99 L103.6,158.05 L104.2,161.32 L104.8,164.92 L105.4,168.82 L106.0,172.97 L106.6,177.31 L107.2,181.78 L107.8,186.32 L108.4,190.87 L109.0,195.37 L109.6,199.76 L110.2,203.99 L110.8,207.99 L111.4,211.70 L112.0,215.07 L112.6,218.04 L113.2,220.57 L113.8,223.00 L114.4,225.44 L115.0,227.87 L115.6,230.28 L116.2,232.66 L116.8,234.98 L117.4,237.24 L118.0,239.42 L118.6,241.51 L119.2,243.49 L119.8,245.36 L120.4,247.09 L121.0,248.68 L121.6,250.10 L122.2,251.35 L122.8,252.41 L123.4,253.27 L124.0,253.91 L124.6,254.33 L125.2,254.50 L125.8,254.37 L126.4,253.90 L127.0,253.10 L127.6,252.01 L128.2,250.65 L128.8,249.04 L129.4,247.22 L130.0,245.21 L130.6,243.04 L131.2,240.73 L131.8,238.31 L132.4,235.81 L133.0,233.25 L133.6,230.67 L134.2,228.08 L134.8,225.51 L135.4,223.00 L136.0,220.57 L136.6,218.24 L137.2,216.04 L137.8,214.00 L138.4,212.14 L139.0,210.50 L139.6,209.02 L140.2,207.52 L140.8,205.99 L141.4,204.42 L142.0,202.83 L142.6,201.22 L143.2,199.60 L143.8,197.97 L144.4,196.34 L145.0,194.73 L145.6,193.12 L146.2,191.54 L146.8,189.98 L147.4,188.46 L148.0,186.98 L148.6,185.54 L149.2,184.15 L149.8,182.83 L150.4,181.56 L151.0,180.37 L151.6,179.26 L152.2,178.23 L152.8,177.30 L153.4,176.45 L154.0,175.72 L154.6,175.09 L155.2,174.58 L155.8,174.19 L156.4,173.93 L157.0,173.80 L157.6,173.83 L158.2,174.02 L158.8,174.38 L159.4,174.89 L160.0,175.54 L160.6,176.33 L161.2,177.25 L161.8,178.30 L162.4,179.47 L163.0,180.74 L163.6,182.12 L164.2,183.60 L164.8,185.17 L165.4,186.82 L166.0,188.55 L166.6,190.35 L167.2,192.21 L167.8,194.13 L168.4,196.10 L169.0,198.11 L169.6,200.15 L170.2,202.23 L170.8,204.32 L171.4,206.43 L172.0,208.55 L172.6,210.67 L173.2,212.78 L173.8,214.88 L174.4,216.97 L175.0,219.02 L175.6,221.04 L176.2,223.02 L176.8,224.96 L177.4,226.84 L178.0,228.66 L178.6,230.41 L179.2,232.09 L179.8,233.69 L180.4,235.20 L181.0,236.61 L181.6,237.92 L182.2,239.12 L182.8,240.21 L183.4,241.17 L184.0,242.01 L184.6,242.71 L185.2,243.26 L185.8,243.67 L186.4,243.92 L187.0,244.00 L187.6,243.85 L188.2,243.41 L188.8,242.69 L189.4,241.71 L190.0,240.48 L190.6,239.03 L191.2,237.36 L191.8,235.49 L192.4,233.45 L193.0,231.23 L193.6,228.86 L194.2,226.36 L194.8,223.74 L195.4,221.01 L196.0,218.20 L196.6,215.31 L197.2,212.36 L197.8,209.38 L198.4,206.36 L199.0,203.34 L199.6,200.32 L200.2,197.32 L200.8,194.36 L201.4,191.44 L202.0,188.60 L202.6,185.84 L203.2,183.18 L203.8,180.63 L204.4,178.21 L205.0,175.90 L205.6,173.58 L206.2,171.25 L206.8,168.92 L207.4,166.58 L208.0,164.24 L208.6,161.90 L209.2,159.56 L209.8,157.23 L210.4,154.89 L211.0,152.56 L211.6,150.23 L212.2,147.91 L212.8,145.59 L213.4,143.28 L214.0,140.98 L214.6,138.68 L215.2,136.40 L215.8,134.12 L216.4,131.85 L217.0,129.52 L217.6,127.05 L218.2,124.46 L218.8,121.77 L219.4,118.98 L220.0,116.11 L220.6,113.17 L221.2,110.19 L221.8,107.17 L222.4,104.13 L223.0,101.08 L223.6,98.04 L224.2,95.02 L224.8,92.04 L225.4,89.11 L226.0,86.24 L226.6,83.44 L227.2,80.75 L227.8,78.15 L228.4,75.68 L229.0,73.35 L229.6,71.17 L230.2,69.14 L230.8,67.30 L231.4,65.65 L232.0,64.21 L232.6,62.99 L233.2,62.00 L233.8,61.27 L234.4,60.80 L235.0,60.60 L235.6,60.66 L236.2,60.88 L236.8,61.26 L237.4,61.79 L238.0,62.46 L238.6,63.28 L239.2,64.22 L239.8,65.29 L240.4,66.47 L241.0,67.77 L241.6,69.16 L242.2,70.66 L242.8,72.24 L243.4,73.91 L244.0,75.65 L244.6,77.46 L245.2,79.33 L245.8,81.26 L246.4,83.24 L247.0,85.26 L247.6,87.31 L248.2,89.39 L248.8,91.49 L249.4,93.61 L250.0,95.73 L250.6,97.85 L251.2,99.97 L251.8,102.07 L252.4,104.15 L253.0,106.21 L253.6,108.23 L254.2,110.21 L254.8,112.15 L255.4,114.08 L256.0,116.16 L256.6,118.40 L257.2,120.77 L257.8,123.26 L258.4,125.85 L259.0,128.52 L259.6,131.26 L260.2,134.05 L260.8,136.87 L261.4,139.71 L262.0,142.55 L262.6,145.37 L263.2,148.16 L263.8,150.90 L264.4,153.57 L265.0,156.15 L265.6,158.64 L266.2,161.00 L266.8,163.24 L267.4,165.32 L268.0,167.23 L268.6,168.96 L269.2,170.50 L269.8,171.99 L270.4,173.49 L271.0,174.98 L271.6,176.47 L272.2,177.94 L272.8,179.41 L273.4,180.85 L274.0,182.28 L274.6,183.68 L275.2,185.06 L275.8,186.40 L276.4,187.71 L277.0,188.99 L277.6,190.22 L278.2,191.40 L278.8,192.54 L279.4,193.63 L280.0,194.66 L280.6,195.64 L281.2,196.55 L281.8,197.39 L282.4,198.17 L283.0,198.88 L283.6,199.50 L284.2,200.05 L284.8,200.52 L285.4,200.90 L286.0,201.19 L286.6,201.39 L287.2,201.49 L287.8,201.49 L288.4,201.43 L289.0,201.30 L289.6,201.12 L290.2,200.88 L290.8,200.56 L291.4,200.17 L292.0,199.69 L292.6,199.14 L293.2,198.52 L293.8,197.84 L294.4,197.10 L295.0,196.32 L295.6,195.51 L296.2,194.68 L296.8,193.84 L297.4,193.00 L298.0,192.16 L298.6,191.33 L299.2,190.53 L299.8,189.74 L300.4,188.99 L301.0,188.27 L301.6,187.59 L302.2,186.94 L302.8,186.33 L303.4,185.73 L304.0,185.16 L304.6,184.59 L305.2,184.02 L305.8,183.43 L306.4,182.85 L307.0,182.24 L307.6,181.63 L308.2,181.00 L308.8,180.35 L309.4,179.69 L310.0,179.00 L310.6,178.26 L311.2,177.45 L311.8,176.58 L312.4,175.65 L313.0,174.69 L313.6,173.69 L314.2,172.67 L314.8,171.64 L315.4,170.60 L316.0,169.58 L316.6,168.57 L317.2,167.60 L317.8,166.66 L318.4,165.77 L319.0,164.93 L319.6,164.17 L320.2,163.48 L320.8,162.89 L321.4,162.39 L322.0,162.00 L322.6,161.67 L323.2,161.35 L323.8,161.03 L324.4,160.73 L325.0,160.43 L325.6,160.16 L326.2,159.90 L326.8,159.66 L327.4,159.45 L328.0,159.26 L328.6,159.10 L329.2,158.97 L329.8,158.88 L330.4,158.82 L331.0,158.80 L331.6,158.82 L332.2,158.87 L332.8,158.95 L333.4,159.06 L334.0,159.18 L334.6,159.32 L335.2,159.48 L335.8,159.64 L336.4,159.83 L337.0,160.11 L337.6,160.47 L338.2,160.88 L338.8,161.33 L339.4,161.82 L340.0,162.31 L340.6,162.79 L341.2,163.25 L341.8,163.67 L342.4,164.05 L343.0,164.40 L343.6,164.74 L344.2,165.08 L344.8,165.41 L345.4,165.73 L346.0,166.05 L346.6,166.38 L347.2,166.71 L347.8,167.05 L348.4,167.41 L349.0,167.77 L349.6,168.16 L350.2,168.57 L350.8,169.00 L351.4,169.45 L352.0,169.92 L352.6,170.41 L353.2,170.90 L353.8,171.41 L354.4,171.92 L355.0,172.44 L355.6,172.96 L356.2,173.48 L356.8,174.00 L357.4,174.51 L358.0,175.01 L358.6,175.51 L359.2,175.99 L359.8,176.46 L360.4,176.90 L361.0,177.33 L361.6,177.74 L362.2,178.12 L362.8,178.47 L363.4,178.79 L364.0,179.08 L364.6,179.34 L365.2,179.58 L365.8,179.82 L366.4,180.06 L367.0,180.30 L367.6,180.53 L368.2,180.75 L368.8,180.98 L369.4,181.19 L370.0,181.41 L370.6,181.61 L371.2,181.81 L371.8,182.00 L372.4,182.18 L373.0,182.35 L373.6,182.52 L374.2,182.67 L374.8,182.81 L375.4,182.95 L376.0,183.07 L376.6,183.17 L377.2,183.27 L377.8,183.35 L378.4,183.41 L379.0,183.46 L379.6,183.50" fill="none" stroke="#0000d0" stroke-width="2.4" stroke-linejoin="round" stroke-linecap="round"/>
<path d="M70.6,113.00 L71.2,110.60 L71.8,108.32 L72.4,106.17 L73.0,104.13 L73.6,102.22 L74.2,100.42 L74.8,98.74 L75.4,97.18 L76.0,95.73 L76.6,94.40 L77.2,93.18 L77.8,92.08 L78.4,91.08 L79.0,90.20 L79.6,89.43 L80.2,88.76 L80.8,88.21 L81.4,87.76 L82.0,87.41 L82.6,87.17 L83.2,87.04 L83.8,87.00 L84.4,87.12 L85.0,87.39 L85.6,87.82 L86.2,88.39 L86.8,89.09 L87.4,89.91 L88.0,90.85 L88.6,91.89 L89.2,93.03 L89.8,94.25 L90.4,95.55 L91.0,96.92 L91.6,98.34 L92.2,99.81 L92.8,101.49 L93.4,103.88 L94.0,106.87 L94.6,110.31 L95.2,114.06 L95.8,117.96 L96.4,121.86 L97.0,125.61 L97.6,129.06 L98.2,132.14 L98.8,135.06 L99.4,137.89 L100.0,140.65 L100.6,143.38 L101.2,146.11 L101.8,148.89 L102.4,151.74 L103.0,154.71 L103.6,157.82 L104.2,161.13 L104.8,164.76 L105.4,168.70 L106.0,172.88 L106.6,177.25 L107.2,181.76 L107.8,186.33 L108.4,190.91 L109.0,195.44 L109.6,199.86 L110.2,204.11 L110.8,208.14 L111.4,211.88 L112.0,215.27 L112.6,218.26 L113.2,220.82 L113.8,223.27 L114.4,225.74 L115.0,228.19 L115.6,230.62 L116.2,233.01 L116.8,235.35 L117.4,237.63 L118.0,239.82 L118.6,241.93 L119.2,243.92 L119.8,245.80 L120.4,247.55 L121.0,249.14 L121.6,250.57 L122.2,251.83 L122.8,252.90 L123.4,253.76 L124.0,254.41 L124.6,254.83 L125.2,255.00 L125.8,254.87 L126.4,254.39 L127.0,253.59 L127.6,252.48 L128.2,251.10 L128.8,249.47 L129.4,247.62 L130.0,245.58 L130.6,243.38 L131.2,241.04 L131.8,238.59 L132.4,236.06 L133.0,233.47 L133.6,230.85 L134.2,228.23 L134.8,225.64 L135.4,223.10 L136.0,220.64 L136.6,218.28 L137.2,216.07 L137.8,214.01 L138.4,212.15 L139.0,210.50 L139.6,209.03 L140.2,207.53 L140.8,206.01 L141.4,204.47 L142.0,202.91 L142.6,201.33 L143.2,199.75 L143.8,198.17 L144.4,196.59 L145.0,195.03 L145.6,193.49 L146.2,191.97 L146.8,190.48 L147.4,189.02 L148.0,187.61 L148.6,186.24 L149.2,184.93 L149.8,183.68 L150.4,182.49 L151.0,181.38 L151.6,180.34 L152.2,179.39 L152.8,178.53 L153.4,177.76 L154.0,177.09 L154.6,176.54 L155.2,176.09 L155.8,175.77 L156.4,175.57 L157.0,175.50 L157.6,175.59 L158.2,175.85 L158.8,176.28 L159.4,176.86 L160.0,177.60 L160.6,178.48 L161.2,179.50 L161.8,180.65 L162.4,181.92 L163.0,183.30 L163.6,184.79 L164.2,186.39 L164.8,188.07 L165.4,189.85 L166.0,191.70 L166.6,193.62 L167.2,195.61 L167.8,197.66 L168.4,199.76 L169.0,201.90 L169.6,204.08 L170.2,206.28 L170.8,208.51 L171.4,210.75 L172.0,213.00 L172.6,215.25 L173.2,217.49 L173.8,219.72 L174.4,221.92 L175.0,224.10 L175.6,226.24 L176.2,228.34 L176.8,230.39 L177.4,232.38 L178.0,234.30 L178.6,236.15 L179.2,237.93 L179.8,239.61 L180.4,241.21 L181.0,242.70 L181.6,244.08 L182.2,245.35 L182.8,246.50 L183.4,247.52 L184.0,248.40 L184.6,249.14 L185.2,249.72 L185.8,250.15 L186.4,250.41 L187.0,250.50 L187.6,250.33 L188.2,249.85 L188.8,249.05 L189.4,247.98 L190.0,246.63 L190.6,245.03 L191.2,243.20 L191.8,241.15 L192.4,238.90 L193.0,236.46 L193.6,233.86 L194.2,231.12 L194.8,228.24 L195.4,225.25 L196.0,222.16 L196.6,219.00 L197.2,215.77 L197.8,212.50 L198.4,209.20 L199.0,205.89 L199.6,202.59 L200.2,199.32 L200.8,196.08 L201.4,192.91 L202.0,189.82 L202.6,186.82 L203.2,183.93 L203.8,181.17 L204.4,178.55 L205.0,176.06 L205.6,173.58 L206.2,171.11 L206.8,168.65 L207.4,166.20 L208.0,163.77 L208.6,161.35 L209.2,158.94 L209.8,156.55 L210.4,154.17 L211.0,151.81 L211.6,149.46 L212.2,147.13 L212.8,144.81 L213.4,142.51 L214.0,140.23 L214.6,137.96 L215.2,135.71 L215.8,133.48 L216.4,131.27 L217.0,128.99 L217.6,126.59 L218.2,124.07 L218.8,121.44 L219.4,118.73 L220.0,115.95 L220.6,113.10 L221.2,110.20 L221.8,107.27 L222.4,104.33 L223.0,101.37 L223.6,98.43 L224.2,95.50 L224.8,92.61 L225.4,89.77 L226.0,86.99 L226.6,84.29 L227.2,81.68 L227.8,79.17 L228.4,76.78 L229.0,74.53 L229.6,72.41 L230.2,70.46 L230.8,68.68 L231.4,67.08 L232.0,65.69 L232.6,64.51 L233.2,63.56 L233.8,62.85 L234.4,62.39 L235.0,62.20 L235.6,62.26 L236.2,62.47 L236.8,62.85 L237.4,63.37 L238.0,64.03 L238.6,64.83 L239.2,65.76 L239.8,66.80 L240.4,67.97 L241.0,69.24 L241.6,70.61 L242.2,72.08 L242.8,73.63 L243.4,75.27 L244.0,76.98 L244.6,78.75 L245.2,80.59 L245.8,82.48 L246.4,84.42 L247.0,86.40 L247.6,88.42 L248.2,90.46 L248.8,92.52 L249.4,94.59 L250.0,96.67 L250.6,98.75 L251.2,100.83 L251.8,102.89 L252.4,104.93 L253.0,106.94 L253.6,108.92 L254.2,110.86 L254.8,112.76 L255.4,114.65 L256.0,116.69 L256.6,118.89 L257.2,121.22 L257.8,123.67 L258.4,126.22 L259.0,128.86 L259.6,131.56 L260.2,134.32 L260.8,137.11 L261.4,139.92 L262.0,142.73 L262.6,145.52 L263.2,148.28 L263.8,151.00 L264.4,153.65 L265.0,156.21 L265.6,158.68 L266.2,161.03 L266.8,163.26 L267.4,165.33 L268.0,167.23 L268.6,168.96 L269.2,170.50 L269.8,171.99 L270.4,173.49 L271.0,174.98 L271.6,176.47 L272.2,177.94 L272.8,179.41 L273.4,180.85 L274.0,182.28 L274.6,183.68 L275.2,185.06 L275.8,186.40 L276.4,187.71 L277.0,188.99 L277.6,190.22 L278.2,191.40 L278.8,192.54 L279.4,193.63 L280.0,194.66 L280.6,195.64 L281.2,196.55 L281.8,197.39 L282.4,198.17 L283.0,198.88 L283.6,199.50 L284.2,200.05 L284.8,200.52 L285.4,200.90 L286.0,201.19 L286.6,201.39 L287.2,201.49 L287.8,201.49 L288.4,201.43 L289.0,201.30 L289.6,201.12 L290.2,200.88 L290.8,200.56 L291.4,200.17 L292.0,199.70 L292.6,199.15 L293.2,198.53 L293.8,197.86 L294.4,197.14 L295.0,196.38 L295.6,195.59 L296.2,194.79 L296.8,193.98 L297.4,193.18 L298.0,192.38 L298.6,191.60 L299.2,190.85 L299.8,190.13 L300.4,189.43 L301.0,188.77 L301.6,188.14 L302.2,187.55 L302.8,186.98 L303.4,186.43 L304.0,185.89 L304.6,185.36 L305.2,184.83 L305.8,184.29 L306.4,183.76 L307.0,183.23 L307.6,182.69 L308.2,182.15 L308.8,181.60 L309.4,181.05 L310.0,180.50 L310.6,179.93 L311.2,179.35 L311.8,178.76 L312.4,178.15 L313.0,177.54 L313.6,176.91 L314.2,176.28 L314.8,175.65 L315.4,175.01 L316.0,174.38 L316.6,173.74 L317.2,173.11 L317.8,172.48 L318.4,171.86 L319.0,171.25 L319.6,170.65 L320.2,170.06 L320.8,169.48 L321.4,168.92 L322.0,168.38 L322.6,167.86 L323.2,167.36 L323.8,166.88 L324.4,166.43 L325.0,166.00 L325.6,165.58 L326.2,165.15 L326.8,164.72 L327.4,164.28 L328.0,163.85 L328.6,163.42 L329.2,163.00 L329.8,162.60 L330.4,162.20 L331.0,161.83 L331.6,161.49 L332.2,161.16 L332.8,160.87 L333.4,160.62 L334.0,160.40 L334.6,160.23 L335.2,160.10 L335.8,160.02 L336.4,159.98 L337.0,159.94 L337.6,159.91 L338.2,159.88 L338.8,159.85 L339.4,159.82 L340.0,159.79 L340.6,159.77 L341.2,159.75 L341.8,159.74 L342.4,159.72 L343.0,159.71 L343.6,159.71 L344.2,159.70 L344.8,159.70 L345.4,159.78 L346.0,159.95 L346.6,160.21 L347.2,160.53 L347.8,160.89 L348.4,161.28 L349.0,161.67 L349.6,162.06 L350.2,162.42 L350.8,162.79 L351.4,163.19 L352.0,163.61 L352.6,164.05 L353.2,164.51 L353.8,164.99 L354.4,165.49 L355.0,166.00 L355.6,166.52 L356.2,167.06 L356.8,167.60 L357.4,168.15 L358.0,168.71 L358.6,169.27 L359.2,169.83 L359.8,170.39 L360.4,170.95 L361.0,171.51 L361.6,172.07 L362.2,172.61 L362.8,173.15 L363.4,173.68 L364.0,174.20 L364.6,174.71 L365.2,175.20 L365.8,175.67 L366.4,176.12 L367.0,176.56 L367.6,176.97 L368.2,177.36 L368.8,177.72 L369.4,178.05 L370.0,178.38 L370.6,178.69 L371.2,179.00 L371.8,179.30 L372.4,179.59 L373.0,179.87 L373.6,180.15 L374.2,180.41 L374.8,180.67 L375.4,180.92 L376.0,181.16 L376.6,181.39 L377.2,181.61 L377.8,181.83 L378.4,182.03 L379.0,182.22 L379.6,182.40" fill="none" stroke="#10e8e8" stroke-width="2.2" stroke-linejoin="round" stroke-linecap="round"/>
<path d="M70.6,112.70 L71.2,110.28 L71.8,107.99 L72.4,105.81 L73.0,103.76 L73.6,101.83 L74.2,100.02 L74.8,98.33 L75.4,96.76 L76.0,95.30 L76.6,93.96 L77.2,92.73 L77.8,91.62 L78.4,90.62 L79.0,89.73 L79.6,88.95 L80.2,88.28 L80.8,87.72 L81.4,87.26 L82.0,86.92 L82.6,86.67 L83.2,86.54 L83.8,86.50 L84.4,86.62 L85.0,86.89 L85.6,87.33 L86.2,87.90 L86.8,88.62 L87.4,89.45 L88.0,90.41 L88.6,91.46 L89.2,92.62 L89.8,93.86 L90.4,95.18 L91.0,96.56 L91.6,98.00 L92.2,99.49 L92.8,101.20 L93.4,103.61 L94.0,106.62 L94.6,110.09 L95.2,113.86 L95.8,117.78 L96.4,121.70 L97.0,125.47 L97.6,128.94 L98.2,132.04 L98.8,134.98 L99.4,137.82 L100.0,140.60 L100.6,143.34 L101.2,146.09 L101.8,148.87 L102.4,151.73 L103.0,154.70 L103.6,157.82 L104.2,161.13 L104.8,164.76 L105.4,168.70 L106.0,172.88 L106.6,177.25 L107.2,181.76 L107.8,186.33 L108.4,190.91 L109.0,195.44 L109.6,199.86 L110.2,204.11 L110.8,208.14 L111.4,211.88 L112.0,215.27 L112.6,218.26 L113.2,220.82 L113.8,223.27 L114.4,225.74 L115.0,228.19 L115.6,230.62 L116.2,233.01 L116.8,235.35 L117.4,237.63 L118.0,239.82 L118.6,241.93 L119.2,243.92 L119.8,245.80 L120.4,247.55 L121.0,249.14 L121.6,250.57 L122.2,251.83 L122.8,252.90 L123.4,253.76 L124.0,254.41 L124.6,254.83 L125.2,255.00 L125.8,254.87 L126.4,254.39 L127.0,253.59 L127.6,252.48 L128.2,251.10 L128.8,249.47 L129.4,247.62 L130.0,245.58 L130.6,243.38 L131.2,241.04 L131.8,238.59 L132.4,236.06 L133.0,233.47 L133.6,230.85 L134.2,228.23 L134.8,225.64 L135.4,223.10 L136.0,220.64 L136.6,218.28 L137.2,216.07 L137.8,214.01 L138.4,212.15 L139.0,210.50 L139.6,209.03 L140.2,207.54 L140.8,206.03 L141.4,204.50 L142.0,202.96 L142.6,201.41 L143.2,199.85 L143.8,198.30 L144.4,196.76 L145.0,195.23 L145.6,193.72 L146.2,192.24 L146.8,190.79 L147.4,189.37 L148.0,188.00 L148.6,186.68 L149.2,185.40 L149.8,184.19 L150.4,183.04 L151.0,181.97 L151.6,180.97 L152.2,180.05 L152.8,179.21 L153.4,178.47 L154.0,177.83 L154.6,177.30 L155.2,176.87 L155.8,176.56 L156.4,176.37 L157.0,176.30 L157.6,176.39 L158.2,176.64 L158.8,177.05 L159.4,177.61 L160.0,178.32 L160.6,179.17 L161.2,180.15 L161.8,181.25 L162.4,182.48 L163.0,183.81 L163.6,185.25 L164.2,186.78 L164.8,188.40 L165.4,190.11 L166.0,191.90 L166.6,193.75 L167.2,195.66 L167.8,197.63 L168.4,199.65 L169.0,201.71 L169.6,203.81 L170.2,205.93 L170.8,208.08 L171.4,210.24 L172.0,212.40 L172.6,214.56 L173.2,216.72 L173.8,218.87 L174.4,220.99 L175.0,223.09 L175.6,225.15 L176.2,227.17 L176.8,229.14 L177.4,231.05 L178.0,232.90 L178.6,234.69 L179.2,236.40 L179.8,238.02 L180.4,239.55 L181.0,240.99 L181.6,242.32 L182.2,243.55 L182.8,244.65 L183.4,245.63 L184.0,246.48 L184.6,247.19 L185.2,247.75 L185.8,248.16 L186.4,248.41 L187.0,248.50 L187.6,248.34 L188.2,247.87 L188.8,247.11 L189.4,246.07 L190.0,244.77 L190.6,243.23 L191.2,241.46 L191.8,239.48 L192.4,237.30 L193.0,234.95 L193.6,232.44 L194.2,229.78 L194.8,227.00 L195.4,224.10 L196.0,221.11 L196.6,218.04 L197.2,214.91 L197.8,211.74 L198.4,208.53 L199.0,205.31 L199.6,202.10 L200.2,198.91 L200.8,195.75 L201.4,192.65 L202.0,189.62 L202.6,186.68 L203.2,183.84 L203.8,181.11 L204.4,178.53 L205.0,176.06 L205.6,173.58 L206.2,171.10 L206.8,168.61 L207.4,166.11 L208.0,163.60 L208.6,161.09 L209.2,158.57 L209.8,156.05 L210.4,153.53 L211.0,151.01 L211.6,148.49 L212.2,145.97 L212.8,143.45 L213.4,140.94 L214.0,138.44 L214.6,135.94 L215.2,133.45 L215.8,130.97 L216.4,128.50 L217.0,125.96 L217.6,123.29 L218.2,120.50 L218.8,117.61 L219.4,114.62 L220.0,111.56 L220.6,108.43 L221.2,105.26 L221.8,102.06 L222.4,98.83 L223.0,95.61 L223.6,92.40 L224.2,89.21 L224.8,86.07 L225.4,82.98 L226.0,79.96 L226.6,77.02 L227.2,74.19 L227.8,71.47 L228.4,68.88 L229.0,66.43 L229.6,64.14 L230.2,62.03 L230.8,60.10 L231.4,58.38 L232.0,56.87 L232.6,55.59 L233.2,54.57 L233.8,53.80 L234.4,53.31 L235.0,53.10 L235.6,53.16 L236.2,53.40 L236.8,53.81 L237.4,54.39 L238.0,55.12 L238.6,56.00 L239.2,57.02 L239.8,58.18 L240.4,59.46 L241.0,60.87 L241.6,62.38 L242.2,64.01 L242.8,65.73 L243.4,67.54 L244.0,69.43 L244.6,71.40 L245.2,73.43 L245.8,75.53 L246.4,77.68 L247.0,79.88 L247.6,82.11 L248.2,84.38 L248.8,86.67 L249.4,88.98 L250.0,91.30 L250.6,93.62 L251.2,95.94 L251.8,98.24 L252.4,100.52 L253.0,102.78 L253.6,105.00 L254.2,107.17 L254.8,109.30 L255.4,111.43 L256.0,113.70 L256.6,116.13 L257.2,118.68 L257.8,121.34 L258.4,124.11 L259.0,126.95 L259.6,129.85 L260.2,132.79 L260.8,135.77 L261.4,138.75 L262.0,141.72 L262.6,144.67 L263.2,147.57 L263.8,150.42 L264.4,153.19 L265.0,155.86 L265.6,158.43 L266.2,160.86 L266.8,163.15 L267.4,165.27 L268.0,167.21 L268.6,168.96 L269.2,170.50 L269.8,171.99 L270.4,173.49 L271.0,174.98 L271.6,176.47 L272.2,177.94 L272.8,179.41 L273.4,180.85 L274.0,182.28 L274.6,183.68 L275.2,185.06 L275.8,186.40 L276.4,187.71 L277.0,188.99 L277.6,190.22 L278.2,191.40 L278.8,192.54 L279.4,193.63 L280.0,194.66 L280.6,195.64 L281.2,196.55 L281.8,197.39 L282.4,198.17 L283.0,198.88 L283.6,199.50 L284.2,200.05 L284.8,200.52 L285.4,200.90 L286.0,201.19 L286.6,201.39 L287.2,201.49 L287.8,201.49 L288.4,201.43 L289.0,201.30 L289.6,201.12 L290.2,200.88 L290.8,200.58 L291.4,200.24 L292.0,199.85 L292.6,199.41 L293.2,198.93 L293.8,198.42 L294.4,197.86 L295.0,197.28 L295.6,196.66 L296.2,196.02 L296.8,195.35 L297.4,194.65 L298.0,193.94 L298.6,193.22 L299.2,192.47 L299.8,191.72 L300.4,190.96 L301.0,190.20 L301.6,189.43 L302.2,188.66 L302.8,187.90 L303.4,187.14 L304.0,186.39 L304.6,185.65 L305.2,184.93 L305.8,184.22 L306.4,183.54 L307.0,182.87 L307.6,182.24 L308.2,181.63 L308.8,181.05 L309.4,180.51 L310.0,180.00 L310.6,179.51 L311.2,179.00 L311.8,178.48 L312.4,177.95 L313.0,177.41 L313.6,176.86 L314.2,176.30 L314.8,175.74 L315.4,175.18 L316.0,174.61 L316.6,174.05 L317.2,173.48 L317.8,172.92 L318.4,172.36 L319.0,171.80 L319.6,171.25 L320.2,170.71 L320.8,170.17 L321.4,169.65 L322.0,169.14 L322.6,168.64 L323.2,168.16 L323.8,167.69 L324.4,167.25 L325.0,166.82 L325.6,166.41 L326.2,166.02 L326.8,165.66 L327.4,165.32 L328.0,165.00 L328.6,164.72 L329.2,164.46 L329.8,164.24 L330.4,164.04 L331.0,163.88 L331.6,163.76 L332.2,163.67 L332.8,163.61 L333.4,163.60 L334.0,163.63 L334.6,163.69 L335.2,163.78 L335.8,163.91 L336.4,164.06 L337.0,164.25 L337.6,164.46 L338.2,164.70 L338.8,164.97 L339.4,165.26 L340.0,165.57 L340.6,165.90 L341.2,166.24 L341.8,166.61 L342.4,166.99 L343.0,167.38 L343.6,167.79 L344.2,168.20 L344.8,168.62 L345.4,169.06 L346.0,169.49 L346.6,169.93 L347.2,170.38 L347.8,170.82 L348.4,171.27 L349.0,171.71 L349.6,172.14 L350.2,172.58 L350.8,173.00 L351.4,173.42 L352.0,173.83 L352.6,174.22 L353.2,174.60 L353.8,174.97 L354.4,175.32 L355.0,175.66 L355.6,175.97 L356.2,176.26 L356.8,176.53 L357.4,176.78 L358.0,177.00 L358.6,177.19 L359.2,177.35 L359.8,177.51 L360.4,177.67 L361.0,177.82 L361.6,177.98 L362.2,178.13 L362.8,178.29 L363.4,178.44 L364.0,178.58 L364.6,178.73 L365.2,178.87 L365.8,179.02 L366.4,179.15 L367.0,179.29 L367.6,179.42 L368.2,179.55 L368.8,179.67 L369.4,179.79 L370.0,179.91 L370.6,180.02 L371.2,180.13 L371.8,180.23 L372.4,180.32 L373.0,180.42 L373.6,180.50 L374.2,180.58 L374.8,180.65 L375.4,180.72 L376.0,180.78 L376.6,180.84 L377.2,180.88 L377.8,180.92 L378.4,180.96 L379.0,180.98 L379.6,181.00" fill="none" stroke="#f000f0" stroke-width="3.5" stroke-linejoin="round" stroke-linecap="round"/>
<rect x="505.4" y="250.1" width="4.6" height="4.6" fill="#000"/>
<rect x="505.5" y="235.7" width="4.6" height="4.6" fill="#000"/>
<rect x="508.7" y="203.3" width="4.6" height="4.6" fill="#000"/>
<rect x="510.6" y="175.7" width="4.6" height="4.6" fill="#000"/>
<rect x="512.6" y="170.7" width="4.6" height="4.6" fill="#000"/>
<rect x="514.5" y="163.9" width="4.6" height="4.6" fill="#000"/>
<rect x="518.4" y="159.0" width="4.6" height="4.6" fill="#000"/>
<rect x="518.4" y="145.2" width="4.6" height="4.6" fill="#000"/>
<rect x="520.4" y="125.7" width="4.6" height="4.6" fill="#000"/>
<rect x="524.3" y="133.5" width="4.6" height="4.6" fill="#000"/>
<rect x="521.9" y="118.5" width="4.6" height="4.6" fill="#000"/>
<rect x="525.1" y="110.0" width="4.6" height="4.6" fill="#000"/>
<rect x="530.4" y="107.9" width="4.6" height="4.6" fill="#000"/>
<rect x="537.8" y="106.9" width="4.6" height="4.6" fill="#000"/>
<rect x="531.5" y="87.8" width="4.6" height="4.6" fill="#000"/>
<rect x="538.9" y="84.6" width="4.6" height="4.6" fill="#000"/>
<rect x="544.2" y="74.0" width="4.6" height="4.6" fill="#000"/>
<rect x="545.2" y="89.9" width="4.6" height="4.6" fill="#000"/>
<rect x="550.5" y="85.7" width="4.6" height="4.6" fill="#000"/>
<rect x="555.8" y="97.3" width="4.6" height="4.6" fill="#000"/>
<rect x="531.5" y="113.7" width="4.6" height="4.6" fill="#000"/>
<rect x="526.2" y="120.0" width="4.6" height="4.6" fill="#000"/>
<rect x="535.7" y="96.8" width="4.6" height="4.6" fill="#000"/>
<rect x="559.2" y="58.1" width="4.6" height="4.6" fill="#000"/>
<rect x="567.0" y="56.9" width="4.6" height="4.6" fill="#000"/>
<rect x="560.4" y="63.0" width="4.6" height="4.6" fill="#000"/>
<rect x="565.8" y="63.0" width="4.6" height="4.6" fill="#000"/>
<rect x="571.9" y="63.0" width="4.6" height="4.6" fill="#000"/>
<rect x="579.7" y="60.6" width="4.6" height="4.6" fill="#000"/>
<rect x="578.5" y="53.3" width="4.6" height="4.6" fill="#000"/>
<rect x="585.2" y="55.7" width="4.6" height="4.6" fill="#000"/>
<rect x="591.8" y="56.3" width="4.6" height="4.6" fill="#000"/>
<rect x="600.9" y="55.7" width="4.6" height="4.6" fill="#000"/>
<rect x="584.0" y="67.8" width="4.6" height="4.6" fill="#000"/>
<rect x="594.9" y="67.2" width="4.6" height="4.6" fill="#000"/>
<rect x="602.7" y="71.4" width="4.6" height="4.6" fill="#000"/>
<rect x="604.5" y="67.2" width="4.6" height="4.6" fill="#000"/>
<rect x="551.3" y="78.7" width="4.6" height="4.6" fill="#000"/>
<rect x="567.0" y="72.7" width="4.6" height="4.6" fill="#000"/>
<rect x="575.5" y="72.0" width="4.6" height="4.6" fill="#000"/>
<rect x="581.0" y="76.3" width="4.6" height="4.6" fill="#000"/>
<rect x="573.7" y="80.5" width="4.6" height="4.6" fill="#000"/>
<rect x="576.7" y="79.3" width="4.6" height="4.6" fill="#000"/>
<rect x="563.4" y="83.5" width="4.6" height="4.6" fill="#000"/>
<rect x="590.6" y="73.3" width="4.6" height="4.6" fill="#000"/>
<rect x="596.7" y="85.3" width="4.6" height="4.6" fill="#000"/>
<rect x="551.3" y="85.3" width="4.6" height="4.6" fill="#000"/>
<rect x="558.6" y="76.9" width="4.6" height="4.6" fill="#000"/>
<rect x="606.8" y="54.9" width="4.6" height="4.6" fill="#000"/>
<rect x="609.5" y="48.5" width="4.6" height="4.6" fill="#000"/>
<rect x="614.0" y="51.3" width="4.6" height="4.6" fill="#000"/>
<rect x="616.7" y="57.6" width="4.6" height="4.6" fill="#000"/>
<rect x="611.3" y="66.7" width="4.6" height="4.6" fill="#000"/>
<rect x="614.9" y="72.1" width="4.6" height="4.6" fill="#000"/>
<rect x="622.2" y="55.8" width="4.6" height="4.6" fill="#000"/>
<rect x="625.8" y="50.4" width="4.6" height="4.6" fill="#000"/>
<rect x="621.3" y="65.8" width="4.6" height="4.6" fill="#000"/>
<rect x="626.7" y="68.5" width="4.6" height="4.6" fill="#000"/>
<rect x="629.4" y="71.2" width="4.6" height="4.6" fill="#000"/>
<rect x="634.0" y="72.1" width="4.6" height="4.6" fill="#000"/>
<rect x="636.7" y="56.7" width="4.6" height="4.6" fill="#000"/>
<rect x="640.3" y="49.5" width="4.6" height="4.6" fill="#000"/>
<rect x="643.9" y="53.1" width="4.6" height="4.6" fill="#000"/>
<rect x="636.7" y="65.8" width="4.6" height="4.6" fill="#000"/>
<rect x="639.4" y="68.5" width="4.6" height="4.6" fill="#000"/>
<rect x="645.7" y="74.8" width="4.6" height="4.6" fill="#000"/>
<rect x="649.4" y="76.7" width="4.6" height="4.6" fill="#000"/>
<rect x="652.1" y="54.9" width="4.6" height="4.6" fill="#000"/>
<rect x="654.8" y="43.1" width="4.6" height="4.6" fill="#000"/>
<rect x="655.7" y="53.1" width="4.6" height="4.6" fill="#000"/>
<rect x="674.4" y="43.4" width="4.6" height="4.6" fill="#000"/>
<rect x="694.0" y="42.4" width="4.6" height="4.6" fill="#000"/>
<rect x="696.9" y="46.3" width="4.6" height="4.6" fill="#000"/>
<rect x="685.2" y="48.3" width="4.6" height="4.6" fill="#000"/>
<rect x="683.2" y="53.2" width="4.6" height="4.6" fill="#000"/>
<rect x="697.9" y="52.2" width="4.6" height="4.6" fill="#000"/>
<rect x="699.9" y="55.2" width="4.6" height="4.6" fill="#000"/>
<rect x="668.5" y="56.1" width="4.6" height="4.6" fill="#000"/>
<rect x="676.3" y="56.1" width="4.6" height="4.6" fill="#000"/>
<rect x="672.4" y="57.1" width="4.6" height="4.6" fill="#000"/>
<rect x="692.0" y="57.1" width="4.6" height="4.6" fill="#000"/>
<rect x="688.1" y="59.1" width="4.6" height="4.6" fill="#000"/>
<rect x="681.2" y="55.2" width="4.6" height="4.6" fill="#000"/>
<rect x="713.6" y="53.2" width="4.6" height="4.6" fill="#000"/>
<rect x="711.6" y="57.1" width="4.6" height="4.6" fill="#000"/>
<rect x="659.7" y="60.1" width="4.6" height="4.6" fill="#000"/>
<rect x="677.3" y="65.9" width="4.6" height="4.6" fill="#000"/>
<rect x="680.2" y="69.9" width="4.6" height="4.6" fill="#000"/>
<rect x="685.2" y="66.9" width="4.6" height="4.6" fill="#000"/>
<rect x="689.1" y="67.9" width="4.6" height="4.6" fill="#000"/>
<rect x="664.6" y="70.8" width="4.6" height="4.6" fill="#000"/>
<rect x="673.4" y="74.8" width="4.6" height="4.6" fill="#000"/>
<rect x="704.8" y="65.9" width="4.6" height="4.6" fill="#000"/>
<rect x="706.7" y="69.9" width="4.6" height="4.6" fill="#000"/>
<rect x="709.7" y="67.9" width="4.6" height="4.6" fill="#000"/>
<rect x="700.8" y="74.8" width="4.6" height="4.6" fill="#000"/>
<rect x="703.8" y="79.7" width="4.6" height="4.6" fill="#000"/>
<rect x="671.4" y="88.5" width="4.6" height="4.6" fill="#000"/>
<rect x="722.6" y="44.4" width="4.6" height="4.6" fill="#000"/>
<rect x="716.7" y="53.2" width="4.6" height="4.6" fill="#000"/>
<rect x="724.5" y="49.3" width="4.6" height="4.6" fill="#000"/>
<rect x="727.5" y="51.2" width="4.6" height="4.6" fill="#000"/>
<rect x="720.6" y="53.2" width="4.6" height="4.6" fill="#000"/>
<rect x="729.4" y="55.2" width="4.6" height="4.6" fill="#000"/>
<rect x="735.3" y="50.2" width="4.6" height="4.6" fill="#000"/>
<rect x="738.2" y="54.2" width="4.6" height="4.6" fill="#000"/>
<rect x="743.2" y="53.2" width="4.6" height="4.6" fill="#000"/>
<rect x="734.3" y="56.1" width="4.6" height="4.6" fill="#000"/>
<rect x="741.2" y="57.1" width="4.6" height="4.6" fill="#000"/>
<rect x="752.0" y="51.2" width="4.6" height="4.6" fill="#000"/>
<rect x="755.9" y="54.2" width="4.6" height="4.6" fill="#000"/>
<rect x="761.8" y="55.2" width="4.6" height="4.6" fill="#000"/>
<rect x="767.7" y="51.2" width="4.6" height="4.6" fill="#000"/>
<rect x="757.9" y="57.1" width="4.6" height="4.6" fill="#000"/>
<rect x="748.1" y="59.1" width="4.6" height="4.6" fill="#000"/>
<rect x="717.7" y="67.9" width="4.6" height="4.6" fill="#000"/>
<rect x="720.6" y="73.8" width="4.6" height="4.6" fill="#000"/>
<rect x="732.4" y="66.9" width="4.6" height="4.6" fill="#000"/>
<rect x="745.1" y="64.0" width="4.6" height="4.6" fill="#000"/>
<rect x="748.1" y="65.9" width="4.6" height="4.6" fill="#000"/>
<rect x="754.9" y="65.9" width="4.6" height="4.6" fill="#000"/>
<rect x="757.9" y="67.9" width="4.6" height="4.6" fill="#000"/>
<rect x="768.6" y="67.9" width="4.6" height="4.6" fill="#000"/>
<rect x="615.8" y="58.4" width="4.6" height="4.6" fill="#000"/>
<rect x="629.1" y="60.8" width="4.6" height="4.6" fill="#000"/>
<rect x="651.5" y="56.6" width="4.6" height="4.6" fill="#000"/>
<rect x="656.9" y="59.0" width="4.6" height="4.6" fill="#000"/>
<rect x="663.0" y="59.6" width="4.6" height="4.6" fill="#000"/>
<rect x="626.7" y="65.7" width="4.6" height="4.6" fill="#000"/>
<rect x="631.5" y="65.1" width="4.6" height="4.6" fill="#000"/>
<rect x="658.1" y="65.7" width="4.6" height="4.6" fill="#000"/>
<rect x="661.7" y="66.3" width="4.6" height="4.6" fill="#000"/>
<rect x="641.2" y="67.5" width="4.6" height="4.6" fill="#000"/>
<rect x="689.8" y="57.0" width="4.6" height="4.6" fill="#000"/>
<rect x="700.7" y="55.8" width="4.6" height="4.6" fill="#000"/>
<rect x="717.6" y="55.8" width="4.6" height="4.6" fill="#000"/>
<rect x="714.0" y="54.0" width="4.6" height="4.6" fill="#000"/>
<rect x="726.0" y="55.2" width="4.6" height="4.6" fill="#000"/>
<rect x="732.1" y="55.8" width="4.6" height="4.6" fill="#000"/>
<rect x="738.1" y="57.0" width="4.6" height="4.6" fill="#000"/>
<rect x="741.7" y="54.6" width="4.6" height="4.6" fill="#000"/>
<rect x="745.4" y="59.5" width="4.6" height="4.6" fill="#000"/>
<rect x="751.4" y="59.5" width="4.6" height="4.6" fill="#000"/>
<rect x="755.0" y="55.8" width="4.6" height="4.6" fill="#000"/>
<rect x="707.9" y="65.5" width="4.6" height="4.6" fill="#000"/>
<rect x="705.5" y="69.1" width="4.6" height="4.6" fill="#000"/>
<rect x="750.2" y="65.5" width="4.6" height="4.6" fill="#000"/>
<rect x="745.4" y="64.3" width="4.6" height="4.6" fill="#000"/>
<rect x="755.0" y="66.1" width="4.6" height="4.6" fill="#000"/>
<rect x="680.1" y="65.5" width="4.6" height="4.6" fill="#000"/>
<rect x="688.6" y="66.7" width="4.6" height="4.6" fill="#000"/>
<rect x="583.6" y="56.2" width="4.6" height="4.6" fill="#000"/>
<rect x="572.7" y="62.8" width="4.6" height="4.6" fill="#000"/>
<rect x="566.7" y="72.5" width="4.6" height="4.6" fill="#000"/>
<rect x="553.4" y="77.9" width="4.6" height="4.6" fill="#000"/>
<path d="M507.3,248.1 L508.0,241.3 L508.7,234.7 L509.4,228.4 L510.1,222.4 L510.8,216.5 L511.5,210.9 L512.2,205.5 L512.9,200.3 L513.6,195.3 L514.3,190.5 L515.0,185.9 L515.7,181.4 L516.4,177.1 L517.1,172.9 L517.8,168.9 L518.5,165.0 L519.2,161.2 L519.9,157.6 L520.6,154.1 L521.3,150.7 L522.0,147.5 L522.7,144.4 L523.4,141.4 L524.1,138.5 L524.8,135.8 L525.5,133.1 L526.2,130.6 L526.9,128.1 L527.6,125.8 L528.3,123.5 L529.0,121.3 L529.7,119.3 L530.4,117.3 L531.1,115.4 L531.8,113.5 L532.5,111.8 L533.2,110.1 L533.9,108.4 L534.6,106.8 L535.3,105.3 L536.0,103.8 L536.7,102.4 L537.4,101.0 L538.1,99.7 L538.8,98.4 L539.5,97.2 L540.2,96.0 L540.9,94.9 L541.6,93.8 L542.3,92.7 L543.0,91.7 L543.7,90.7 L544.4,89.8 L545.1,88.9 L545.8,88.0 L546.5,87.1 L547.2,86.3 L547.9,85.5 L548.6,84.8 L549.3,84.0 L550.0,83.3 L550.7,82.7 L551.4,82.0 L552.1,81.4 L552.8,80.8 L553.5,80.2 L554.2,79.6 L554.9,79.1 L555.6,78.5 L556.3,78.0 L557.0,77.5 L557.7,77.1 L558.4,76.6 L559.1,76.2 L559.8,75.7 L560.5,75.3 L561.2,74.9 L561.9,74.5 L562.6,74.2 L563.3,73.8 L564.0,73.5 L564.7,73.2 L565.4,72.8 L566.1,72.5 L566.8,72.2 L567.5,72.0 L568.2,71.7 L568.9,71.4 L569.6,71.2 L570.3,70.9 L571.0,70.7 L571.7,70.4 L572.4,70.2 L573.1,70.0 L573.8,69.8 L574.5,69.6 L575.2,69.4 L575.9,69.2 L576.6,69.1 L577.3,68.9 L578.0,68.7 L578.7,68.6 L579.4,68.4 L580.1,68.3 L580.8,68.1 L581.5,68.0 L582.2,67.8 L582.9,67.7 L583.6,67.6 L584.3,67.5 L585.0,67.4 L585.7,67.2 L586.4,67.1 L587.1,67.0 L587.8,66.9 L588.5,66.8 L589.2,66.7 L589.9,66.7 L590.6,66.6 L591.3,66.5 L592.0,66.4 L592.7,66.3 L593.4,66.3 L594.1,66.2 L594.8,66.1 L595.5,66.0 L596.2,66.0 L596.9,65.9 L597.6,65.9 L598.3,65.8 L599.0,65.7 L599.7,65.7 L600.4,65.6 L601.1,65.6 L601.8,65.5 L602.5,65.5 L603.2,65.4 L603.9,65.4 L604.6,65.4 L605.3,65.3 L606.0,65.3 L606.7,65.2 L607.4,65.2 L608.1,65.2 L608.8,65.1 L609.5,65.1 L610.2,65.1 L610.9,65.0 L611.6,65.0 L612.3,65.0 L613.0,65.0 L613.7,64.9 L614.4,64.9 L615.1,64.9 L615.8,64.9 L616.5,64.8 L617.2,64.8 L617.9,64.8 L618.6,64.8 L619.3,64.8 L620.0,64.7 L620.7,64.7 L621.4,64.7 L622.1,64.7 L622.8,64.7 L623.5,64.7 L624.2,64.6 L624.9,64.6 L625.6,64.6 L626.3,64.6 L627.0,64.6 L627.7,64.6 L628.4,64.6 L629.1,64.5 L629.8,64.5 L630.5,64.5 L631.2,64.5 L631.9,64.5 L632.6,64.5 L633.3,64.5 L634.0,64.5 L634.7,64.5 L635.4,64.5 L636.1,64.5 L636.8,64.4 L637.5,64.4 L638.2,64.4 L638.9,64.4 L639.6,64.4 L640.3,64.4 L641.0,64.4 L641.7,64.4 L642.4,64.4 L643.1,64.4 L643.8,64.4 L644.5,64.4 L645.2,64.4 L645.9,64.4 L646.6,64.4 L647.3,64.4 L648.0,64.4 L648.7,64.3 L649.4,64.3 L650.1,64.3 L650.8,64.3 L651.5,64.3 L652.2,64.3 L652.9,64.3 L653.6,64.3 L654.3,64.3 L655.0,64.3 L655.7,64.3 L656.4,64.3 L657.1,64.3 L657.8,64.3 L658.5,64.3 L659.2,64.3 L659.9,64.3 L660.6,64.3 L661.3,64.3 L662.0,64.3 L662.7,64.3 L663.4,64.3 L664.1,64.3 L664.8,64.3 L665.5,64.3 L666.2,64.3 L666.9,64.3 L667.6,64.3 L668.3,64.3 L669.0,64.3 L669.7,64.3 L670.4,64.3 L671.1,64.3 L671.8,64.3 L672.5,64.3 L673.2,64.3 L673.9,64.3 L674.6,64.3 L675.3,64.3 L676.0,64.3 L676.7,64.3 L677.4,64.3 L678.1,64.3 L678.8,64.3 L679.5,64.3 L680.2,64.3 L680.9,64.3 L681.6,64.3 L682.3,64.3 L683.0,64.3 L683.7,64.3 L684.4,64.3 L685.1,64.3 L685.8,64.3 L686.5,64.3 L687.2,64.3 L687.9,64.3 L688.6,64.3 L689.3,64.3 L690.0,64.3 L690.7,64.3 L691.4,64.3 L692.1,64.3 L692.8,64.3 L693.5,64.3 L694.2,64.3 L694.9,64.3 L695.6,64.3 L696.3,64.3 L697.0,64.3 L697.7,64.3 L698.4,64.3 L699.1,64.3 L699.8,64.3 L700.5,64.3 L701.2,64.3 L701.9,64.3 L702.6,64.3 L703.3,64.3 L704.0,64.3 L704.7,64.3 L705.4,64.3 L706.1,64.3 L706.8,64.3 L707.5,64.3 L708.2,64.3 L708.9,64.3 L709.6,64.3 L710.3,64.3 L711.0,64.3 L711.7,64.3 L712.4,64.3 L713.1,64.3 L713.8,64.3 L714.5,64.3 L715.2,64.3 L715.9,64.3 L716.6,64.3 L717.3,64.3 L718.0,64.3 L718.7,64.3 L719.4,64.3 L720.1,64.3 L720.8,64.3 L721.5,64.3 L722.2,64.3 L722.9,64.3 L723.6,64.3 L724.3,64.3 L725.0,64.3 L725.7,64.3 L726.4,64.3 L727.1,64.3 L727.8,64.3 L728.5,64.3 L729.2,64.3 L729.9,64.3 L730.6,64.3 L731.3,64.3 L732.0,64.3 L732.7,64.3 L733.4,64.3 L734.1,64.3 L734.8,64.3 L735.5,64.3 L736.2,64.3 L736.9,64.3 L737.6,64.3 L738.3,64.3 L739.0,64.3 L739.7,64.3 L740.4,64.3 L741.1,64.3 L741.8,64.3 L742.5,64.3 L743.2,64.3 L743.9,64.3 L744.6,64.3 L745.3,64.3 L746.0,64.3 L746.7,64.3 L747.4,64.3 L748.1,64.3 L748.8,64.3 L749.5,64.3 L750.2,64.3 L750.9,64.3 L751.6,64.3 L752.3,64.3 L753.0,64.3 L753.7,64.3 L754.4,64.3 L755.1,64.3 L755.8,64.3 L756.5,64.3 L757.2,64.3 L757.9,64.3 L758.6,64.3 L759.3,64.3 L760.0,64.3 L760.7,64.3 L761.4,64.3 L762.1,64.3 L762.8,64.3 L763.5,64.3 L764.2,64.3 L764.9,64.3 L765.6,64.3 L766.3,64.3 L767.0,64.3 L767.7,64.3 L768.4,64.3 L769.1,64.3 L769.8,64.3 L770.5,64.3 L771.2,64.3" fill="none" stroke="#e80c0c" stroke-width="3.7" stroke-linejoin="round" stroke-linecap="round"/>
</svg>
</body></html>
